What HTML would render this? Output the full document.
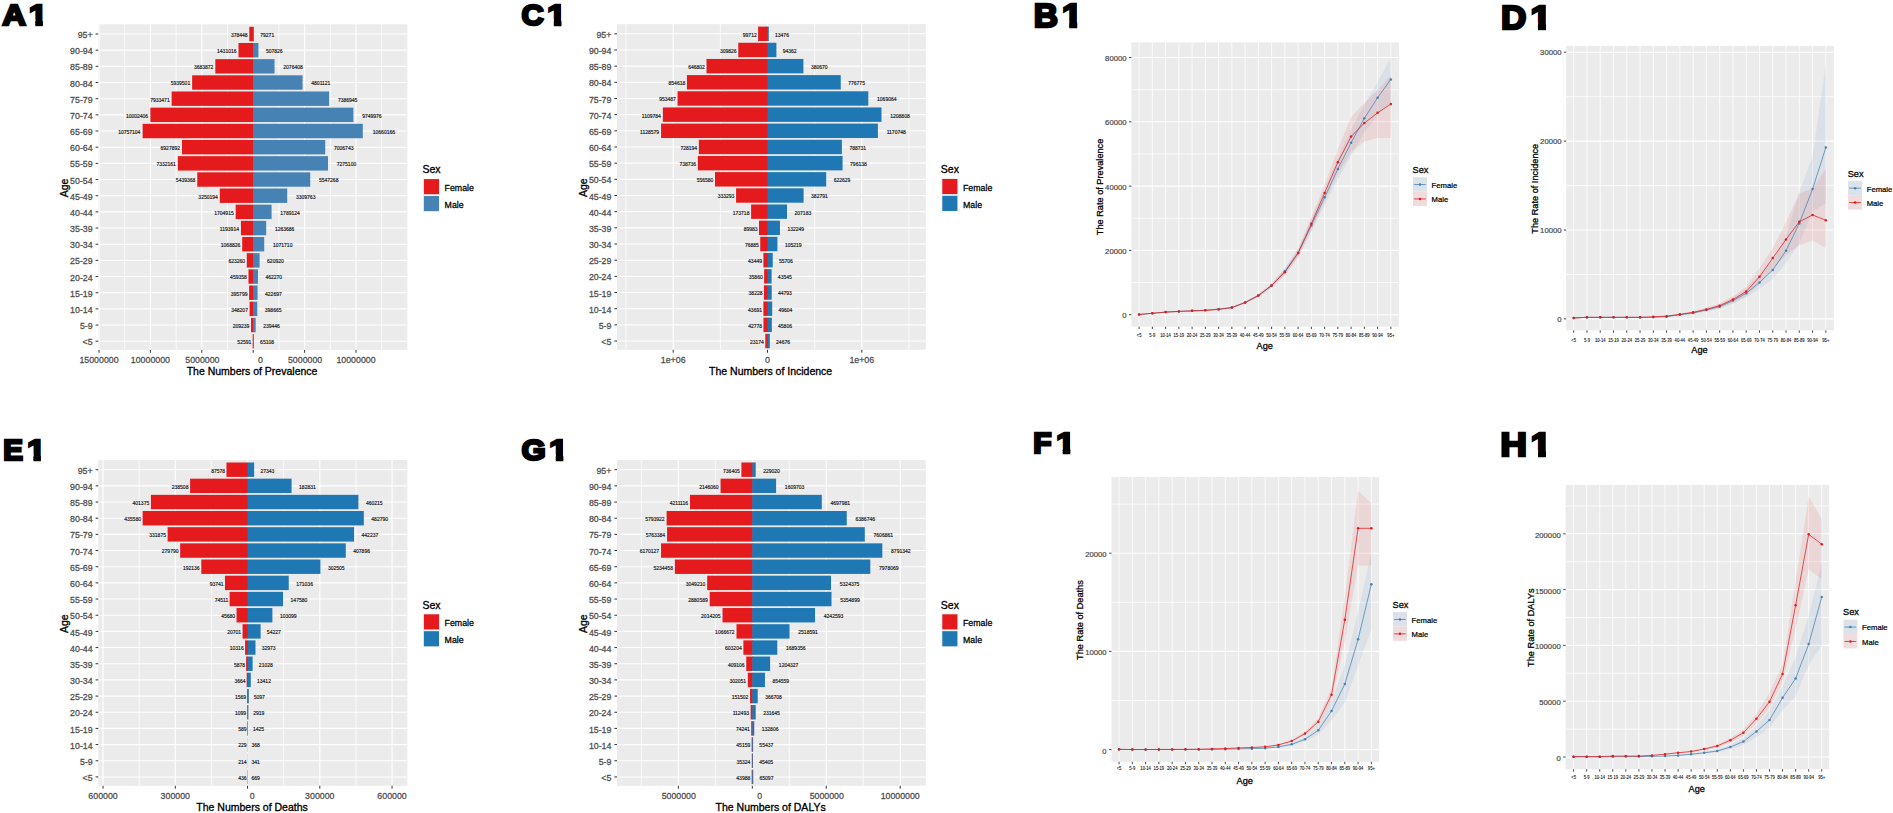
<!DOCTYPE html>
<html lang="en">
<head>
<meta charset="utf-8">
<title>Age-sex distribution of numbers and rates: prevalence, incidence, deaths and DALYs</title>
<style>
html,body{margin:0;padding:0;background:#fff;}
body{width:1893px;height:813px;overflow:hidden;font-family:"Liberation Sans", Arial, sans-serif;}
svg{display:block;position:absolute;left:0;top:0;}
</style>
</head>
<body>
<svg width="1893" height="813" viewBox="0 0 1893 813" font-family='"Liberation Sans", Arial, sans-serif'>
<g id="A1">
<rect x="98.3" y="24.3" width="309.1" height="325.6" fill="#EBEBEB"/>
<line x1="124.7" y1="24.3" x2="124.7" y2="349.9" stroke="#FFFFFF" stroke-width="0.75"/>
<line x1="176.1" y1="24.3" x2="176.1" y2="349.9" stroke="#FFFFFF" stroke-width="0.75"/>
<line x1="227.5" y1="24.3" x2="227.5" y2="349.9" stroke="#FFFFFF" stroke-width="0.75"/>
<line x1="278.9" y1="24.3" x2="278.9" y2="349.9" stroke="#FFFFFF" stroke-width="0.75"/>
<line x1="330.3" y1="24.3" x2="330.3" y2="349.9" stroke="#FFFFFF" stroke-width="0.75"/>
<line x1="381.7" y1="24.3" x2="381.7" y2="349.9" stroke="#FFFFFF" stroke-width="0.75"/>
<line x1="99" y1="24.3" x2="99" y2="349.9" stroke="#FFFFFF" stroke-width="1.1"/>
<line x1="150.4" y1="24.3" x2="150.4" y2="349.9" stroke="#FFFFFF" stroke-width="1.1"/>
<line x1="201.8" y1="24.3" x2="201.8" y2="349.9" stroke="#FFFFFF" stroke-width="1.1"/>
<line x1="253.2" y1="24.3" x2="253.2" y2="349.9" stroke="#FFFFFF" stroke-width="1.1"/>
<line x1="304.6" y1="24.3" x2="304.6" y2="349.9" stroke="#FFFFFF" stroke-width="1.1"/>
<line x1="356" y1="24.3" x2="356" y2="349.9" stroke="#FFFFFF" stroke-width="1.1"/>
<line x1="98.3" y1="34" x2="407.4" y2="34" stroke="#FFFFFF" stroke-width="1.1"/>
<line x1="98.3" y1="50.17" x2="407.4" y2="50.17" stroke="#FFFFFF" stroke-width="1.1"/>
<line x1="98.3" y1="66.34" x2="407.4" y2="66.34" stroke="#FFFFFF" stroke-width="1.1"/>
<line x1="98.3" y1="82.51" x2="407.4" y2="82.51" stroke="#FFFFFF" stroke-width="1.1"/>
<line x1="98.3" y1="98.68" x2="407.4" y2="98.68" stroke="#FFFFFF" stroke-width="1.1"/>
<line x1="98.3" y1="114.85" x2="407.4" y2="114.85" stroke="#FFFFFF" stroke-width="1.1"/>
<line x1="98.3" y1="131.02" x2="407.4" y2="131.02" stroke="#FFFFFF" stroke-width="1.1"/>
<line x1="98.3" y1="147.19" x2="407.4" y2="147.19" stroke="#FFFFFF" stroke-width="1.1"/>
<line x1="98.3" y1="163.36" x2="407.4" y2="163.36" stroke="#FFFFFF" stroke-width="1.1"/>
<line x1="98.3" y1="179.53" x2="407.4" y2="179.53" stroke="#FFFFFF" stroke-width="1.1"/>
<line x1="98.3" y1="195.7" x2="407.4" y2="195.7" stroke="#FFFFFF" stroke-width="1.1"/>
<line x1="98.3" y1="211.87" x2="407.4" y2="211.87" stroke="#FFFFFF" stroke-width="1.1"/>
<line x1="98.3" y1="228.04" x2="407.4" y2="228.04" stroke="#FFFFFF" stroke-width="1.1"/>
<line x1="98.3" y1="244.21" x2="407.4" y2="244.21" stroke="#FFFFFF" stroke-width="1.1"/>
<line x1="98.3" y1="260.38" x2="407.4" y2="260.38" stroke="#FFFFFF" stroke-width="1.1"/>
<line x1="98.3" y1="276.55" x2="407.4" y2="276.55" stroke="#FFFFFF" stroke-width="1.1"/>
<line x1="98.3" y1="292.72" x2="407.4" y2="292.72" stroke="#FFFFFF" stroke-width="1.1"/>
<line x1="98.3" y1="308.89" x2="407.4" y2="308.89" stroke="#FFFFFF" stroke-width="1.1"/>
<line x1="98.3" y1="325.06" x2="407.4" y2="325.06" stroke="#FFFFFF" stroke-width="1.1"/>
<line x1="98.3" y1="341.23" x2="407.4" y2="341.23" stroke="#FFFFFF" stroke-width="1.1"/>
<rect x="249.31" y="26.8" width="4.49" height="14.4" fill="#E41A1C"/>
<rect x="253.2" y="26.8" width="0.81" height="14.4" fill="#4682B4"/>
<rect x="238.49" y="42.97" width="15.31" height="14.4" fill="#E41A1C"/>
<rect x="253.2" y="42.97" width="5.22" height="14.4" fill="#4682B4"/>
<rect x="215.33" y="59.14" width="38.47" height="14.4" fill="#E41A1C"/>
<rect x="253.2" y="59.14" width="21.35" height="14.4" fill="#4682B4"/>
<rect x="192.14" y="75.31" width="61.66" height="14.4" fill="#E41A1C"/>
<rect x="253.2" y="75.31" width="49.36" height="14.4" fill="#4682B4"/>
<rect x="171.64" y="91.48" width="82.16" height="14.4" fill="#E41A1C"/>
<rect x="253.2" y="91.48" width="75.94" height="14.4" fill="#4682B4"/>
<rect x="150.38" y="107.65" width="103.42" height="14.4" fill="#E41A1C"/>
<rect x="253.2" y="107.65" width="100.23" height="14.4" fill="#4682B4"/>
<rect x="142.62" y="123.82" width="111.18" height="14.4" fill="#E41A1C"/>
<rect x="253.2" y="123.82" width="109.59" height="14.4" fill="#4682B4"/>
<rect x="181.98" y="139.99" width="71.82" height="14.4" fill="#E41A1C"/>
<rect x="253.2" y="139.99" width="72.03" height="14.4" fill="#4682B4"/>
<rect x="177.83" y="156.16" width="75.97" height="14.4" fill="#E41A1C"/>
<rect x="253.2" y="156.16" width="74.79" height="14.4" fill="#4682B4"/>
<rect x="197.28" y="172.33" width="56.52" height="14.4" fill="#E41A1C"/>
<rect x="253.2" y="172.33" width="57.03" height="14.4" fill="#4682B4"/>
<rect x="219.79" y="188.5" width="34.01" height="14.4" fill="#E41A1C"/>
<rect x="253.2" y="188.5" width="34.02" height="14.4" fill="#4682B4"/>
<rect x="235.67" y="204.67" width="18.13" height="14.4" fill="#E41A1C"/>
<rect x="253.2" y="204.67" width="18.39" height="14.4" fill="#4682B4"/>
<rect x="240.93" y="220.84" width="12.87" height="14.4" fill="#E41A1C"/>
<rect x="253.2" y="220.84" width="12.99" height="14.4" fill="#4682B4"/>
<rect x="242.21" y="237.01" width="11.59" height="14.4" fill="#E41A1C"/>
<rect x="253.2" y="237.01" width="11.02" height="14.4" fill="#4682B4"/>
<rect x="246.79" y="253.18" width="7.01" height="14.4" fill="#E41A1C"/>
<rect x="253.2" y="253.18" width="6.38" height="14.4" fill="#4682B4"/>
<rect x="248.48" y="269.35" width="5.32" height="14.4" fill="#E41A1C"/>
<rect x="253.2" y="269.35" width="4.75" height="14.4" fill="#4682B4"/>
<rect x="249.13" y="285.52" width="4.67" height="14.4" fill="#E41A1C"/>
<rect x="253.2" y="285.52" width="4.35" height="14.4" fill="#4682B4"/>
<rect x="249.62" y="301.69" width="4.18" height="14.4" fill="#E41A1C"/>
<rect x="253.2" y="301.69" width="4.1" height="14.4" fill="#4682B4"/>
<rect x="251.05" y="317.86" width="2.75" height="14.4" fill="#E41A1C"/>
<rect x="253.2" y="317.86" width="2.46" height="14.4" fill="#4682B4"/>
<rect x="252.66" y="334.03" width="1.14" height="14.4" fill="#E41A1C"/>
<rect x="253.2" y="334.03" width="0.67" height="14.4" fill="#4682B4"/>
<text x="247.64" y="36.85" font-size="5" fill="#111" text-anchor="end" stroke="#111" stroke-width="0.15">378448</text>
<text x="260.27" y="36.85" font-size="5" fill="#111" text-anchor="start" stroke="#111" stroke-width="0.15">79271</text>
<text x="236.54" y="53.02" font-size="5" fill="#111" text-anchor="end" stroke="#111" stroke-width="0.15">1431016</text>
<text x="265.93" y="53.02" font-size="5" fill="#111" text-anchor="start" stroke="#111" stroke-width="0.15">507826</text>
<text x="213.38" y="69.19" font-size="5" fill="#111" text-anchor="end" stroke="#111" stroke-width="0.15">3683872</text>
<text x="283.3" y="69.19" font-size="5" fill="#111" text-anchor="start" stroke="#111" stroke-width="0.15">2076408</text>
<text x="190.2" y="85.36" font-size="5" fill="#111" text-anchor="end" stroke="#111" stroke-width="0.15">5939501</text>
<text x="311.31" y="85.36" font-size="5" fill="#111" text-anchor="start" stroke="#111" stroke-width="0.15">4801121</text>
<text x="169.7" y="101.53" font-size="5" fill="#111" text-anchor="end" stroke="#111" stroke-width="0.15">7933471</text>
<text x="337.89" y="101.53" font-size="5" fill="#111" text-anchor="start" stroke="#111" stroke-width="0.15">7386945</text>
<text x="148.15" y="117.7" font-size="5" fill="#111" text-anchor="end" stroke="#111" stroke-width="0.15">10002406</text>
<text x="362.19" y="117.7" font-size="5" fill="#111" text-anchor="start" stroke="#111" stroke-width="0.15">9749976</text>
<text x="140.39" y="133.87" font-size="5" fill="#111" text-anchor="end" stroke="#111" stroke-width="0.15">10757104</text>
<text x="372.79" y="133.87" font-size="5" fill="#111" text-anchor="start" stroke="#111" stroke-width="0.15">10660166</text>
<text x="180.04" y="150.04" font-size="5" fill="#111" text-anchor="end" stroke="#111" stroke-width="0.15">6927892</text>
<text x="333.99" y="150.04" font-size="5" fill="#111" text-anchor="start" stroke="#111" stroke-width="0.15">7006743</text>
<text x="175.88" y="166.21" font-size="5" fill="#111" text-anchor="end" stroke="#111" stroke-width="0.15">7332161</text>
<text x="336.75" y="166.21" font-size="5" fill="#111" text-anchor="start" stroke="#111" stroke-width="0.15">7275100</text>
<text x="195.34" y="182.38" font-size="5" fill="#111" text-anchor="end" stroke="#111" stroke-width="0.15">5439368</text>
<text x="318.98" y="182.38" font-size="5" fill="#111" text-anchor="start" stroke="#111" stroke-width="0.15">5547268</text>
<text x="217.84" y="198.55" font-size="5" fill="#111" text-anchor="end" stroke="#111" stroke-width="0.15">3250194</text>
<text x="295.98" y="198.55" font-size="5" fill="#111" text-anchor="start" stroke="#111" stroke-width="0.15">3309763</text>
<text x="233.73" y="214.72" font-size="5" fill="#111" text-anchor="end" stroke="#111" stroke-width="0.15">1704915</text>
<text x="280.35" y="214.72" font-size="5" fill="#111" text-anchor="start" stroke="#111" stroke-width="0.15">1789124</text>
<text x="238.98" y="230.89" font-size="5" fill="#111" text-anchor="end" stroke="#111" stroke-width="0.15">1193914</text>
<text x="274.95" y="230.89" font-size="5" fill="#111" text-anchor="start" stroke="#111" stroke-width="0.15">1263686</text>
<text x="240.27" y="247.06" font-size="5" fill="#111" text-anchor="end" stroke="#111" stroke-width="0.15">1068826</text>
<text x="272.97" y="247.06" font-size="5" fill="#111" text-anchor="start" stroke="#111" stroke-width="0.15">1071710</text>
<text x="245.12" y="263.23" font-size="5" fill="#111" text-anchor="end" stroke="#111" stroke-width="0.15">623260</text>
<text x="267.09" y="263.23" font-size="5" fill="#111" text-anchor="start" stroke="#111" stroke-width="0.15">620920</text>
<text x="246.81" y="279.4" font-size="5" fill="#111" text-anchor="end" stroke="#111" stroke-width="0.15">459358</text>
<text x="265.46" y="279.4" font-size="5" fill="#111" text-anchor="start" stroke="#111" stroke-width="0.15">462270</text>
<text x="247.46" y="295.57" font-size="5" fill="#111" text-anchor="end" stroke="#111" stroke-width="0.15">395799</text>
<text x="265.05" y="295.57" font-size="5" fill="#111" text-anchor="start" stroke="#111" stroke-width="0.15">422697</text>
<text x="247.95" y="311.74" font-size="5" fill="#111" text-anchor="end" stroke="#111" stroke-width="0.15">348207</text>
<text x="264.8" y="311.74" font-size="5" fill="#111" text-anchor="start" stroke="#111" stroke-width="0.15">398665</text>
<text x="249.38" y="327.91" font-size="5" fill="#111" text-anchor="end" stroke="#111" stroke-width="0.15">209239</text>
<text x="263.17" y="327.91" font-size="5" fill="#111" text-anchor="start" stroke="#111" stroke-width="0.15">239446</text>
<text x="251.27" y="344.08" font-size="5" fill="#111" text-anchor="end" stroke="#111" stroke-width="0.15">52591</text>
<text x="260.12" y="344.08" font-size="5" fill="#111" text-anchor="start" stroke="#111" stroke-width="0.15">65108</text>
<line x1="95.6" y1="34" x2="98.3" y2="34" stroke="#333333" stroke-width="1"/>
<text x="92.6" y="38.1" font-size="8.8" fill="#4D4D4D" text-anchor="end" stroke="#4D4D4D" stroke-width="0.26">95+</text>
<line x1="95.6" y1="50.17" x2="98.3" y2="50.17" stroke="#333333" stroke-width="1"/>
<text x="92.6" y="54.27" font-size="8.8" fill="#4D4D4D" text-anchor="end" stroke="#4D4D4D" stroke-width="0.26">90-94</text>
<line x1="95.6" y1="66.34" x2="98.3" y2="66.34" stroke="#333333" stroke-width="1"/>
<text x="92.6" y="70.44" font-size="8.8" fill="#4D4D4D" text-anchor="end" stroke="#4D4D4D" stroke-width="0.26">85-89</text>
<line x1="95.6" y1="82.51" x2="98.3" y2="82.51" stroke="#333333" stroke-width="1"/>
<text x="92.6" y="86.61" font-size="8.8" fill="#4D4D4D" text-anchor="end" stroke="#4D4D4D" stroke-width="0.26">80-84</text>
<line x1="95.6" y1="98.68" x2="98.3" y2="98.68" stroke="#333333" stroke-width="1"/>
<text x="92.6" y="102.78" font-size="8.8" fill="#4D4D4D" text-anchor="end" stroke="#4D4D4D" stroke-width="0.26">75-79</text>
<line x1="95.6" y1="114.85" x2="98.3" y2="114.85" stroke="#333333" stroke-width="1"/>
<text x="92.6" y="118.95" font-size="8.8" fill="#4D4D4D" text-anchor="end" stroke="#4D4D4D" stroke-width="0.26">70-74</text>
<line x1="95.6" y1="131.02" x2="98.3" y2="131.02" stroke="#333333" stroke-width="1"/>
<text x="92.6" y="135.12" font-size="8.8" fill="#4D4D4D" text-anchor="end" stroke="#4D4D4D" stroke-width="0.26">65-69</text>
<line x1="95.6" y1="147.19" x2="98.3" y2="147.19" stroke="#333333" stroke-width="1"/>
<text x="92.6" y="151.29" font-size="8.8" fill="#4D4D4D" text-anchor="end" stroke="#4D4D4D" stroke-width="0.26">60-64</text>
<line x1="95.6" y1="163.36" x2="98.3" y2="163.36" stroke="#333333" stroke-width="1"/>
<text x="92.6" y="167.46" font-size="8.8" fill="#4D4D4D" text-anchor="end" stroke="#4D4D4D" stroke-width="0.26">55-59</text>
<line x1="95.6" y1="179.53" x2="98.3" y2="179.53" stroke="#333333" stroke-width="1"/>
<text x="92.6" y="183.63" font-size="8.8" fill="#4D4D4D" text-anchor="end" stroke="#4D4D4D" stroke-width="0.26">50-54</text>
<line x1="95.6" y1="195.7" x2="98.3" y2="195.7" stroke="#333333" stroke-width="1"/>
<text x="92.6" y="199.8" font-size="8.8" fill="#4D4D4D" text-anchor="end" stroke="#4D4D4D" stroke-width="0.26">45-49</text>
<line x1="95.6" y1="211.87" x2="98.3" y2="211.87" stroke="#333333" stroke-width="1"/>
<text x="92.6" y="215.97" font-size="8.8" fill="#4D4D4D" text-anchor="end" stroke="#4D4D4D" stroke-width="0.26">40-44</text>
<line x1="95.6" y1="228.04" x2="98.3" y2="228.04" stroke="#333333" stroke-width="1"/>
<text x="92.6" y="232.14" font-size="8.8" fill="#4D4D4D" text-anchor="end" stroke="#4D4D4D" stroke-width="0.26">35-39</text>
<line x1="95.6" y1="244.21" x2="98.3" y2="244.21" stroke="#333333" stroke-width="1"/>
<text x="92.6" y="248.31" font-size="8.8" fill="#4D4D4D" text-anchor="end" stroke="#4D4D4D" stroke-width="0.26">30-34</text>
<line x1="95.6" y1="260.38" x2="98.3" y2="260.38" stroke="#333333" stroke-width="1"/>
<text x="92.6" y="264.48" font-size="8.8" fill="#4D4D4D" text-anchor="end" stroke="#4D4D4D" stroke-width="0.26">25-29</text>
<line x1="95.6" y1="276.55" x2="98.3" y2="276.55" stroke="#333333" stroke-width="1"/>
<text x="92.6" y="280.65" font-size="8.8" fill="#4D4D4D" text-anchor="end" stroke="#4D4D4D" stroke-width="0.26">20-24</text>
<line x1="95.6" y1="292.72" x2="98.3" y2="292.72" stroke="#333333" stroke-width="1"/>
<text x="92.6" y="296.82" font-size="8.8" fill="#4D4D4D" text-anchor="end" stroke="#4D4D4D" stroke-width="0.26">15-19</text>
<line x1="95.6" y1="308.89" x2="98.3" y2="308.89" stroke="#333333" stroke-width="1"/>
<text x="92.6" y="312.99" font-size="8.8" fill="#4D4D4D" text-anchor="end" stroke="#4D4D4D" stroke-width="0.26">10-14</text>
<line x1="95.6" y1="325.06" x2="98.3" y2="325.06" stroke="#333333" stroke-width="1"/>
<text x="92.6" y="329.16" font-size="8.8" fill="#4D4D4D" text-anchor="end" stroke="#4D4D4D" stroke-width="0.26">5-9</text>
<line x1="95.6" y1="341.23" x2="98.3" y2="341.23" stroke="#333333" stroke-width="1"/>
<text x="92.6" y="345.33" font-size="8.8" fill="#4D4D4D" text-anchor="end" stroke="#4D4D4D" stroke-width="0.26">&lt;5</text>
<text transform="translate(68.2 187.9) rotate(-90)" font-size="10.5" fill="#000" stroke="#000" stroke-width="0.32" text-anchor="middle">Age</text>
<line x1="99" y1="349.9" x2="99" y2="352.8" stroke="#333333" stroke-width="1"/>
<text x="99" y="362.6" font-size="8.8" fill="#4D4D4D" text-anchor="middle" stroke="#4D4D4D" stroke-width="0.26">15000000</text>
<line x1="150.4" y1="349.9" x2="150.4" y2="352.8" stroke="#333333" stroke-width="1"/>
<text x="150.4" y="362.6" font-size="8.8" fill="#4D4D4D" text-anchor="middle" stroke="#4D4D4D" stroke-width="0.26">10000000</text>
<line x1="201.8" y1="349.9" x2="201.8" y2="352.8" stroke="#333333" stroke-width="1"/>
<text x="202.4" y="362.6" font-size="8.8" fill="#4D4D4D" text-anchor="middle" stroke="#4D4D4D" stroke-width="0.26">5000000</text>
<line x1="253.2" y1="349.9" x2="253.2" y2="352.8" stroke="#333333" stroke-width="1"/>
<text x="260.4" y="362.6" font-size="8.8" fill="#4D4D4D" text-anchor="middle" stroke="#4D4D4D" stroke-width="0.26">0</text>
<line x1="304.6" y1="349.9" x2="304.6" y2="352.8" stroke="#333333" stroke-width="1"/>
<text x="305.1" y="362.6" font-size="8.8" fill="#4D4D4D" text-anchor="middle" stroke="#4D4D4D" stroke-width="0.26">5000000</text>
<line x1="356" y1="349.9" x2="356" y2="352.8" stroke="#333333" stroke-width="1"/>
<text x="356" y="362.6" font-size="8.8" fill="#4D4D4D" text-anchor="middle" stroke="#4D4D4D" stroke-width="0.26">10000000</text>
<text x="252.05" y="374.9" font-size="10.5" fill="#000" text-anchor="middle" stroke="#000" stroke-width="0.32">The Numbers of Prevalence</text>
<text x="422.4" y="173.4" font-size="10.5" fill="#000" text-anchor="start" stroke="#000" stroke-width="0.32">Sex</text>
<rect x="423" y="178.2" width="16.9" height="16.9" fill="#F2F2F2"/>
<rect x="423.9" y="179.1" width="15.1" height="15.1" fill="#E41A1C"/>
<text x="444.6" y="191" font-size="8.8" fill="#000" text-anchor="start" stroke="#000" stroke-width="0.26">Female</text>
<rect x="423" y="195.1" width="16.9" height="16.9" fill="#F2F2F2"/>
<rect x="423.9" y="196" width="15.1" height="15.1" fill="#4682B4"/>
<text x="444.6" y="207.9" font-size="8.8" fill="#000" text-anchor="start" stroke="#000" stroke-width="0.26">Male</text>
</g><g id="C1">
<rect x="617.1" y="24.1" width="308.7" height="325.7" fill="#EBEBEB"/>
<line x1="626.05" y1="24.1" x2="626.05" y2="349.8" stroke="#FFFFFF" stroke-width="0.75"/>
<line x1="720.35" y1="24.1" x2="720.35" y2="349.8" stroke="#FFFFFF" stroke-width="0.75"/>
<line x1="814.65" y1="24.1" x2="814.65" y2="349.8" stroke="#FFFFFF" stroke-width="0.75"/>
<line x1="908.95" y1="24.1" x2="908.95" y2="349.8" stroke="#FFFFFF" stroke-width="0.75"/>
<line x1="673.2" y1="24.1" x2="673.2" y2="349.8" stroke="#FFFFFF" stroke-width="1.1"/>
<line x1="767.5" y1="24.1" x2="767.5" y2="349.8" stroke="#FFFFFF" stroke-width="1.1"/>
<line x1="861.8" y1="24.1" x2="861.8" y2="349.8" stroke="#FFFFFF" stroke-width="1.1"/>
<line x1="617.1" y1="33.8" x2="925.8" y2="33.8" stroke="#FFFFFF" stroke-width="1.1"/>
<line x1="617.1" y1="49.97" x2="925.8" y2="49.97" stroke="#FFFFFF" stroke-width="1.1"/>
<line x1="617.1" y1="66.14" x2="925.8" y2="66.14" stroke="#FFFFFF" stroke-width="1.1"/>
<line x1="617.1" y1="82.31" x2="925.8" y2="82.31" stroke="#FFFFFF" stroke-width="1.1"/>
<line x1="617.1" y1="98.48" x2="925.8" y2="98.48" stroke="#FFFFFF" stroke-width="1.1"/>
<line x1="617.1" y1="114.65" x2="925.8" y2="114.65" stroke="#FFFFFF" stroke-width="1.1"/>
<line x1="617.1" y1="130.82" x2="925.8" y2="130.82" stroke="#FFFFFF" stroke-width="1.1"/>
<line x1="617.1" y1="146.99" x2="925.8" y2="146.99" stroke="#FFFFFF" stroke-width="1.1"/>
<line x1="617.1" y1="163.16" x2="925.8" y2="163.16" stroke="#FFFFFF" stroke-width="1.1"/>
<line x1="617.1" y1="179.33" x2="925.8" y2="179.33" stroke="#FFFFFF" stroke-width="1.1"/>
<line x1="617.1" y1="195.5" x2="925.8" y2="195.5" stroke="#FFFFFF" stroke-width="1.1"/>
<line x1="617.1" y1="211.67" x2="925.8" y2="211.67" stroke="#FFFFFF" stroke-width="1.1"/>
<line x1="617.1" y1="227.84" x2="925.8" y2="227.84" stroke="#FFFFFF" stroke-width="1.1"/>
<line x1="617.1" y1="244.01" x2="925.8" y2="244.01" stroke="#FFFFFF" stroke-width="1.1"/>
<line x1="617.1" y1="260.18" x2="925.8" y2="260.18" stroke="#FFFFFF" stroke-width="1.1"/>
<line x1="617.1" y1="276.35" x2="925.8" y2="276.35" stroke="#FFFFFF" stroke-width="1.1"/>
<line x1="617.1" y1="292.52" x2="925.8" y2="292.52" stroke="#FFFFFF" stroke-width="1.1"/>
<line x1="617.1" y1="308.69" x2="925.8" y2="308.69" stroke="#FFFFFF" stroke-width="1.1"/>
<line x1="617.1" y1="324.86" x2="925.8" y2="324.86" stroke="#FFFFFF" stroke-width="1.1"/>
<line x1="617.1" y1="341.03" x2="925.8" y2="341.03" stroke="#FFFFFF" stroke-width="1.1"/>
<rect x="758.1" y="26.6" width="10" height="14.4" fill="#E41A1C"/>
<rect x="767.5" y="26.6" width="1.27" height="14.4" fill="#1F78B4"/>
<rect x="738.28" y="42.77" width="29.82" height="14.4" fill="#E41A1C"/>
<rect x="767.5" y="42.77" width="8.9" height="14.4" fill="#1F78B4"/>
<rect x="706.51" y="58.94" width="61.59" height="14.4" fill="#E41A1C"/>
<rect x="767.5" y="58.94" width="35.9" height="14.4" fill="#1F78B4"/>
<rect x="686.91" y="75.11" width="81.19" height="14.4" fill="#E41A1C"/>
<rect x="767.5" y="75.11" width="73.25" height="14.4" fill="#1F78B4"/>
<rect x="677.59" y="91.28" width="90.51" height="14.4" fill="#E41A1C"/>
<rect x="767.5" y="91.28" width="100.81" height="14.4" fill="#1F78B4"/>
<rect x="662.85" y="107.45" width="105.25" height="14.4" fill="#E41A1C"/>
<rect x="767.5" y="107.45" width="113.99" height="14.4" fill="#1F78B4"/>
<rect x="661.08" y="123.62" width="107.02" height="14.4" fill="#E41A1C"/>
<rect x="767.5" y="123.62" width="110.4" height="14.4" fill="#1F78B4"/>
<rect x="698.83" y="139.79" width="69.27" height="14.4" fill="#E41A1C"/>
<rect x="767.5" y="139.79" width="74.38" height="14.4" fill="#1F78B4"/>
<rect x="697.84" y="155.96" width="70.26" height="14.4" fill="#E41A1C"/>
<rect x="767.5" y="155.96" width="75.08" height="14.4" fill="#1F78B4"/>
<rect x="715.01" y="172.13" width="53.09" height="14.4" fill="#E41A1C"/>
<rect x="767.5" y="172.13" width="58.71" height="14.4" fill="#1F78B4"/>
<rect x="736.07" y="188.3" width="32.03" height="14.4" fill="#E41A1C"/>
<rect x="767.5" y="188.3" width="36.1" height="14.4" fill="#1F78B4"/>
<rect x="751.12" y="204.47" width="16.98" height="14.4" fill="#E41A1C"/>
<rect x="767.5" y="204.47" width="19.54" height="14.4" fill="#1F78B4"/>
<rect x="759.01" y="220.64" width="9.09" height="14.4" fill="#E41A1C"/>
<rect x="767.5" y="220.64" width="12.47" height="14.4" fill="#1F78B4"/>
<rect x="760.25" y="236.81" width="7.85" height="14.4" fill="#E41A1C"/>
<rect x="767.5" y="236.81" width="9.92" height="14.4" fill="#1F78B4"/>
<rect x="763.4" y="252.98" width="4.7" height="14.4" fill="#E41A1C"/>
<rect x="767.5" y="252.98" width="5.25" height="14.4" fill="#1F78B4"/>
<rect x="764.12" y="269.15" width="3.98" height="14.4" fill="#E41A1C"/>
<rect x="767.5" y="269.15" width="4.11" height="14.4" fill="#1F78B4"/>
<rect x="763.9" y="285.32" width="4.2" height="14.4" fill="#E41A1C"/>
<rect x="767.5" y="285.32" width="4.22" height="14.4" fill="#1F78B4"/>
<rect x="763.38" y="301.49" width="4.72" height="14.4" fill="#E41A1C"/>
<rect x="767.5" y="301.49" width="4.68" height="14.4" fill="#1F78B4"/>
<rect x="763.47" y="317.66" width="4.63" height="14.4" fill="#E41A1C"/>
<rect x="767.5" y="317.66" width="4.32" height="14.4" fill="#1F78B4"/>
<rect x="765.31" y="333.83" width="2.79" height="14.4" fill="#E41A1C"/>
<rect x="767.5" y="333.83" width="2.33" height="14.4" fill="#1F78B4"/>
<text x="756.71" y="36.65" font-size="5" fill="#111" text-anchor="end" stroke="#111" stroke-width="0.15">99712</text>
<text x="775.03" y="36.65" font-size="5" fill="#111" text-anchor="start" stroke="#111" stroke-width="0.15">13476</text>
<text x="736.62" y="52.82" font-size="5" fill="#111" text-anchor="end" stroke="#111" stroke-width="0.15">309826</text>
<text x="782.65" y="52.82" font-size="5" fill="#111" text-anchor="start" stroke="#111" stroke-width="0.15">94362</text>
<text x="704.84" y="68.99" font-size="5" fill="#111" text-anchor="end" stroke="#111" stroke-width="0.15">646802</text>
<text x="810.9" y="68.99" font-size="5" fill="#111" text-anchor="start" stroke="#111" stroke-width="0.15">380670</text>
<text x="685.24" y="85.16" font-size="5" fill="#111" text-anchor="end" stroke="#111" stroke-width="0.15">854618</text>
<text x="848.26" y="85.16" font-size="5" fill="#111" text-anchor="start" stroke="#111" stroke-width="0.15">776775</text>
<text x="675.92" y="101.33" font-size="5" fill="#111" text-anchor="end" stroke="#111" stroke-width="0.15">953487</text>
<text x="877.07" y="101.33" font-size="5" fill="#111" text-anchor="start" stroke="#111" stroke-width="0.15">1069064</text>
<text x="660.9" y="117.5" font-size="5" fill="#111" text-anchor="end" stroke="#111" stroke-width="0.15">1109784</text>
<text x="890.25" y="117.5" font-size="5" fill="#111" text-anchor="start" stroke="#111" stroke-width="0.15">1208808</text>
<text x="659.13" y="133.67" font-size="5" fill="#111" text-anchor="end" stroke="#111" stroke-width="0.15">1128579</text>
<text x="886.66" y="133.67" font-size="5" fill="#111" text-anchor="start" stroke="#111" stroke-width="0.15">1170748</text>
<text x="697.16" y="149.84" font-size="5" fill="#111" text-anchor="end" stroke="#111" stroke-width="0.15">728194</text>
<text x="849.38" y="149.84" font-size="5" fill="#111" text-anchor="start" stroke="#111" stroke-width="0.15">788731</text>
<text x="696.17" y="166.01" font-size="5" fill="#111" text-anchor="end" stroke="#111" stroke-width="0.15">738736</text>
<text x="850.08" y="166.01" font-size="5" fill="#111" text-anchor="start" stroke="#111" stroke-width="0.15">796138</text>
<text x="713.35" y="182.18" font-size="5" fill="#111" text-anchor="end" stroke="#111" stroke-width="0.15">556580</text>
<text x="833.72" y="182.18" font-size="5" fill="#111" text-anchor="start" stroke="#111" stroke-width="0.15">622629</text>
<text x="734.4" y="198.35" font-size="5" fill="#111" text-anchor="end" stroke="#111" stroke-width="0.15">333293</text>
<text x="811.1" y="198.35" font-size="5" fill="#111" text-anchor="start" stroke="#111" stroke-width="0.15">382791</text>
<text x="749.45" y="214.52" font-size="5" fill="#111" text-anchor="end" stroke="#111" stroke-width="0.15">173718</text>
<text x="794.54" y="214.52" font-size="5" fill="#111" text-anchor="start" stroke="#111" stroke-width="0.15">207183</text>
<text x="757.62" y="230.69" font-size="5" fill="#111" text-anchor="end" stroke="#111" stroke-width="0.15">89983</text>
<text x="787.48" y="230.69" font-size="5" fill="#111" text-anchor="start" stroke="#111" stroke-width="0.15">132249</text>
<text x="758.86" y="246.86" font-size="5" fill="#111" text-anchor="end" stroke="#111" stroke-width="0.15">76885</text>
<text x="784.93" y="246.86" font-size="5" fill="#111" text-anchor="start" stroke="#111" stroke-width="0.15">105219</text>
<text x="762.01" y="263.03" font-size="5" fill="#111" text-anchor="end" stroke="#111" stroke-width="0.15">43449</text>
<text x="779.01" y="263.03" font-size="5" fill="#111" text-anchor="start" stroke="#111" stroke-width="0.15">55706</text>
<text x="762.73" y="279.2" font-size="5" fill="#111" text-anchor="end" stroke="#111" stroke-width="0.15">35860</text>
<text x="777.86" y="279.2" font-size="5" fill="#111" text-anchor="start" stroke="#111" stroke-width="0.15">43545</text>
<text x="762.51" y="295.37" font-size="5" fill="#111" text-anchor="end" stroke="#111" stroke-width="0.15">38228</text>
<text x="777.98" y="295.37" font-size="5" fill="#111" text-anchor="start" stroke="#111" stroke-width="0.15">44793</text>
<text x="761.99" y="311.54" font-size="5" fill="#111" text-anchor="end" stroke="#111" stroke-width="0.15">43691</text>
<text x="778.43" y="311.54" font-size="5" fill="#111" text-anchor="start" stroke="#111" stroke-width="0.15">49604</text>
<text x="762.08" y="327.71" font-size="5" fill="#111" text-anchor="end" stroke="#111" stroke-width="0.15">42778</text>
<text x="778.07" y="327.71" font-size="5" fill="#111" text-anchor="start" stroke="#111" stroke-width="0.15">45806</text>
<text x="763.92" y="343.88" font-size="5" fill="#111" text-anchor="end" stroke="#111" stroke-width="0.15">23174</text>
<text x="776.08" y="343.88" font-size="5" fill="#111" text-anchor="start" stroke="#111" stroke-width="0.15">24676</text>
<line x1="614.4" y1="33.8" x2="617.1" y2="33.8" stroke="#333333" stroke-width="1"/>
<text x="611.4" y="37.9" font-size="8.8" fill="#4D4D4D" text-anchor="end" stroke="#4D4D4D" stroke-width="0.26">95+</text>
<line x1="614.4" y1="49.97" x2="617.1" y2="49.97" stroke="#333333" stroke-width="1"/>
<text x="611.4" y="54.07" font-size="8.8" fill="#4D4D4D" text-anchor="end" stroke="#4D4D4D" stroke-width="0.26">90-94</text>
<line x1="614.4" y1="66.14" x2="617.1" y2="66.14" stroke="#333333" stroke-width="1"/>
<text x="611.4" y="70.24" font-size="8.8" fill="#4D4D4D" text-anchor="end" stroke="#4D4D4D" stroke-width="0.26">85-89</text>
<line x1="614.4" y1="82.31" x2="617.1" y2="82.31" stroke="#333333" stroke-width="1"/>
<text x="611.4" y="86.41" font-size="8.8" fill="#4D4D4D" text-anchor="end" stroke="#4D4D4D" stroke-width="0.26">80-84</text>
<line x1="614.4" y1="98.48" x2="617.1" y2="98.48" stroke="#333333" stroke-width="1"/>
<text x="611.4" y="102.58" font-size="8.8" fill="#4D4D4D" text-anchor="end" stroke="#4D4D4D" stroke-width="0.26">75-79</text>
<line x1="614.4" y1="114.65" x2="617.1" y2="114.65" stroke="#333333" stroke-width="1"/>
<text x="611.4" y="118.75" font-size="8.8" fill="#4D4D4D" text-anchor="end" stroke="#4D4D4D" stroke-width="0.26">70-74</text>
<line x1="614.4" y1="130.82" x2="617.1" y2="130.82" stroke="#333333" stroke-width="1"/>
<text x="611.4" y="134.92" font-size="8.8" fill="#4D4D4D" text-anchor="end" stroke="#4D4D4D" stroke-width="0.26">65-69</text>
<line x1="614.4" y1="146.99" x2="617.1" y2="146.99" stroke="#333333" stroke-width="1"/>
<text x="611.4" y="151.09" font-size="8.8" fill="#4D4D4D" text-anchor="end" stroke="#4D4D4D" stroke-width="0.26">60-64</text>
<line x1="614.4" y1="163.16" x2="617.1" y2="163.16" stroke="#333333" stroke-width="1"/>
<text x="611.4" y="167.26" font-size="8.8" fill="#4D4D4D" text-anchor="end" stroke="#4D4D4D" stroke-width="0.26">55-59</text>
<line x1="614.4" y1="179.33" x2="617.1" y2="179.33" stroke="#333333" stroke-width="1"/>
<text x="611.4" y="183.43" font-size="8.8" fill="#4D4D4D" text-anchor="end" stroke="#4D4D4D" stroke-width="0.26">50-54</text>
<line x1="614.4" y1="195.5" x2="617.1" y2="195.5" stroke="#333333" stroke-width="1"/>
<text x="611.4" y="199.6" font-size="8.8" fill="#4D4D4D" text-anchor="end" stroke="#4D4D4D" stroke-width="0.26">45-49</text>
<line x1="614.4" y1="211.67" x2="617.1" y2="211.67" stroke="#333333" stroke-width="1"/>
<text x="611.4" y="215.77" font-size="8.8" fill="#4D4D4D" text-anchor="end" stroke="#4D4D4D" stroke-width="0.26">40-44</text>
<line x1="614.4" y1="227.84" x2="617.1" y2="227.84" stroke="#333333" stroke-width="1"/>
<text x="611.4" y="231.94" font-size="8.8" fill="#4D4D4D" text-anchor="end" stroke="#4D4D4D" stroke-width="0.26">35-39</text>
<line x1="614.4" y1="244.01" x2="617.1" y2="244.01" stroke="#333333" stroke-width="1"/>
<text x="611.4" y="248.11" font-size="8.8" fill="#4D4D4D" text-anchor="end" stroke="#4D4D4D" stroke-width="0.26">30-34</text>
<line x1="614.4" y1="260.18" x2="617.1" y2="260.18" stroke="#333333" stroke-width="1"/>
<text x="611.4" y="264.28" font-size="8.8" fill="#4D4D4D" text-anchor="end" stroke="#4D4D4D" stroke-width="0.26">25-29</text>
<line x1="614.4" y1="276.35" x2="617.1" y2="276.35" stroke="#333333" stroke-width="1"/>
<text x="611.4" y="280.45" font-size="8.8" fill="#4D4D4D" text-anchor="end" stroke="#4D4D4D" stroke-width="0.26">20-24</text>
<line x1="614.4" y1="292.52" x2="617.1" y2="292.52" stroke="#333333" stroke-width="1"/>
<text x="611.4" y="296.62" font-size="8.8" fill="#4D4D4D" text-anchor="end" stroke="#4D4D4D" stroke-width="0.26">15-19</text>
<line x1="614.4" y1="308.69" x2="617.1" y2="308.69" stroke="#333333" stroke-width="1"/>
<text x="611.4" y="312.79" font-size="8.8" fill="#4D4D4D" text-anchor="end" stroke="#4D4D4D" stroke-width="0.26">10-14</text>
<line x1="614.4" y1="324.86" x2="617.1" y2="324.86" stroke="#333333" stroke-width="1"/>
<text x="611.4" y="328.96" font-size="8.8" fill="#4D4D4D" text-anchor="end" stroke="#4D4D4D" stroke-width="0.26">5-9</text>
<line x1="614.4" y1="341.03" x2="617.1" y2="341.03" stroke="#333333" stroke-width="1"/>
<text x="611.4" y="345.13" font-size="8.8" fill="#4D4D4D" text-anchor="end" stroke="#4D4D4D" stroke-width="0.26">&lt;5</text>
<text transform="translate(587 187.75) rotate(-90)" font-size="10.5" fill="#000" stroke="#000" stroke-width="0.32" text-anchor="middle">Age</text>
<line x1="673.2" y1="349.8" x2="673.2" y2="352.7" stroke="#333333" stroke-width="1"/>
<text x="673.2" y="362.5" font-size="8.8" fill="#4D4D4D" text-anchor="middle" stroke="#4D4D4D" stroke-width="0.26">1e+06</text>
<line x1="767.5" y1="349.8" x2="767.5" y2="352.7" stroke="#333333" stroke-width="1"/>
<text x="767.5" y="362.5" font-size="8.8" fill="#4D4D4D" text-anchor="middle" stroke="#4D4D4D" stroke-width="0.26">0</text>
<line x1="861.8" y1="349.8" x2="861.8" y2="352.7" stroke="#333333" stroke-width="1"/>
<text x="861.8" y="362.5" font-size="8.8" fill="#4D4D4D" text-anchor="middle" stroke="#4D4D4D" stroke-width="0.26">1e+06</text>
<text x="770.65" y="374.8" font-size="10.5" fill="#000" text-anchor="middle" stroke="#000" stroke-width="0.32">The Numbers of Incidence</text>
<text x="940.8" y="173.25" font-size="10.5" fill="#000" text-anchor="start" stroke="#000" stroke-width="0.32">Sex</text>
<rect x="941.4" y="178.05" width="16.9" height="16.9" fill="#F2F2F2"/>
<rect x="942.3" y="178.95" width="15.1" height="15.1" fill="#E41A1C"/>
<text x="963" y="190.85" font-size="8.8" fill="#000" text-anchor="start" stroke="#000" stroke-width="0.26">Female</text>
<rect x="941.4" y="194.95" width="16.9" height="16.9" fill="#F2F2F2"/>
<rect x="942.3" y="195.85" width="15.1" height="15.1" fill="#1F78B4"/>
<text x="963" y="207.75" font-size="8.8" fill="#000" text-anchor="start" stroke="#000" stroke-width="0.26">Male</text>
</g><g id="E1">
<rect x="98.3" y="460" width="309.1" height="325.8" fill="#EBEBEB"/>
<line x1="139.18" y1="460" x2="139.18" y2="785.8" stroke="#FFFFFF" stroke-width="0.75"/>
<line x1="211.43" y1="460" x2="211.43" y2="785.8" stroke="#FFFFFF" stroke-width="0.75"/>
<line x1="283.68" y1="460" x2="283.68" y2="785.8" stroke="#FFFFFF" stroke-width="0.75"/>
<line x1="355.93" y1="460" x2="355.93" y2="785.8" stroke="#FFFFFF" stroke-width="0.75"/>
<line x1="103.05" y1="460" x2="103.05" y2="785.8" stroke="#FFFFFF" stroke-width="1.1"/>
<line x1="175.3" y1="460" x2="175.3" y2="785.8" stroke="#FFFFFF" stroke-width="1.1"/>
<line x1="247.55" y1="460" x2="247.55" y2="785.8" stroke="#FFFFFF" stroke-width="1.1"/>
<line x1="319.8" y1="460" x2="319.8" y2="785.8" stroke="#FFFFFF" stroke-width="1.1"/>
<line x1="392.05" y1="460" x2="392.05" y2="785.8" stroke="#FFFFFF" stroke-width="1.1"/>
<line x1="98.3" y1="469.7" x2="407.4" y2="469.7" stroke="#FFFFFF" stroke-width="1.1"/>
<line x1="98.3" y1="485.87" x2="407.4" y2="485.87" stroke="#FFFFFF" stroke-width="1.1"/>
<line x1="98.3" y1="502.04" x2="407.4" y2="502.04" stroke="#FFFFFF" stroke-width="1.1"/>
<line x1="98.3" y1="518.21" x2="407.4" y2="518.21" stroke="#FFFFFF" stroke-width="1.1"/>
<line x1="98.3" y1="534.38" x2="407.4" y2="534.38" stroke="#FFFFFF" stroke-width="1.1"/>
<line x1="98.3" y1="550.55" x2="407.4" y2="550.55" stroke="#FFFFFF" stroke-width="1.1"/>
<line x1="98.3" y1="566.72" x2="407.4" y2="566.72" stroke="#FFFFFF" stroke-width="1.1"/>
<line x1="98.3" y1="582.89" x2="407.4" y2="582.89" stroke="#FFFFFF" stroke-width="1.1"/>
<line x1="98.3" y1="599.06" x2="407.4" y2="599.06" stroke="#FFFFFF" stroke-width="1.1"/>
<line x1="98.3" y1="615.23" x2="407.4" y2="615.23" stroke="#FFFFFF" stroke-width="1.1"/>
<line x1="98.3" y1="631.4" x2="407.4" y2="631.4" stroke="#FFFFFF" stroke-width="1.1"/>
<line x1="98.3" y1="647.57" x2="407.4" y2="647.57" stroke="#FFFFFF" stroke-width="1.1"/>
<line x1="98.3" y1="663.74" x2="407.4" y2="663.74" stroke="#FFFFFF" stroke-width="1.1"/>
<line x1="98.3" y1="679.91" x2="407.4" y2="679.91" stroke="#FFFFFF" stroke-width="1.1"/>
<line x1="98.3" y1="696.08" x2="407.4" y2="696.08" stroke="#FFFFFF" stroke-width="1.1"/>
<line x1="98.3" y1="712.25" x2="407.4" y2="712.25" stroke="#FFFFFF" stroke-width="1.1"/>
<line x1="98.3" y1="728.42" x2="407.4" y2="728.42" stroke="#FFFFFF" stroke-width="1.1"/>
<line x1="98.3" y1="744.59" x2="407.4" y2="744.59" stroke="#FFFFFF" stroke-width="1.1"/>
<line x1="98.3" y1="760.76" x2="407.4" y2="760.76" stroke="#FFFFFF" stroke-width="1.1"/>
<line x1="98.3" y1="776.93" x2="407.4" y2="776.93" stroke="#FFFFFF" stroke-width="1.1"/>
<rect x="226.46" y="462.5" width="21.69" height="14.4" fill="#E41A1C"/>
<rect x="247.55" y="462.5" width="6.59" height="14.4" fill="#1F78B4"/>
<rect x="190.11" y="478.67" width="58.04" height="14.4" fill="#E41A1C"/>
<rect x="247.55" y="478.67" width="44.03" height="14.4" fill="#1F78B4"/>
<rect x="150.89" y="494.84" width="97.26" height="14.4" fill="#E41A1C"/>
<rect x="247.55" y="494.84" width="110.84" height="14.4" fill="#1F78B4"/>
<rect x="142.65" y="511.01" width="105.5" height="14.4" fill="#E41A1C"/>
<rect x="247.55" y="511.01" width="116.27" height="14.4" fill="#1F78B4"/>
<rect x="167.62" y="527.18" width="80.53" height="14.4" fill="#E41A1C"/>
<rect x="247.55" y="527.18" width="106.51" height="14.4" fill="#1F78B4"/>
<rect x="180.17" y="543.35" width="67.98" height="14.4" fill="#E41A1C"/>
<rect x="247.55" y="543.35" width="98.23" height="14.4" fill="#1F78B4"/>
<rect x="201.28" y="559.52" width="46.87" height="14.4" fill="#E41A1C"/>
<rect x="247.55" y="559.52" width="72.85" height="14.4" fill="#1F78B4"/>
<rect x="224.97" y="575.69" width="23.18" height="14.4" fill="#E41A1C"/>
<rect x="247.55" y="575.69" width="41.19" height="14.4" fill="#1F78B4"/>
<rect x="229.61" y="591.86" width="18.54" height="14.4" fill="#E41A1C"/>
<rect x="247.55" y="591.86" width="35.54" height="14.4" fill="#1F78B4"/>
<rect x="236.55" y="608.03" width="11.6" height="14.4" fill="#E41A1C"/>
<rect x="247.55" y="608.03" width="24.83" height="14.4" fill="#1F78B4"/>
<rect x="242.56" y="624.2" width="5.59" height="14.4" fill="#E41A1C"/>
<rect x="247.55" y="624.2" width="13.06" height="14.4" fill="#1F78B4"/>
<rect x="245.07" y="640.37" width="3.08" height="14.4" fill="#E41A1C"/>
<rect x="247.55" y="640.37" width="7.94" height="14.4" fill="#1F78B4"/>
<rect x="246.13" y="656.54" width="2.02" height="14.4" fill="#E41A1C"/>
<rect x="247.55" y="656.54" width="5.06" height="14.4" fill="#1F78B4"/>
<rect x="246.67" y="672.71" width="1.48" height="14.4" fill="#E41A1C"/>
<rect x="247.55" y="672.71" width="3.23" height="14.4" fill="#1F78B4"/>
<rect x="247.17" y="688.88" width="0.98" height="14.4" fill="#E41A1C"/>
<rect x="247.55" y="688.88" width="1.23" height="14.4" fill="#1F78B4"/>
<rect x="247.29" y="705.05" width="0.86" height="14.4" fill="#E41A1C"/>
<rect x="247.55" y="705.05" width="0.7" height="14.4" fill="#1F78B4"/>
<rect x="247.41" y="721.22" width="0.49" height="14.4" fill="#E41A1C"/>
<rect x="247.55" y="721.22" width="0.34" height="14.4" fill="#1F78B4"/>
<rect x="247.49" y="737.39" width="0.14" height="14.4" fill="#E41A1C"/>
<rect x="247.55" y="737.39" width="0.09" height="14.4" fill="#1F78B4"/>
<rect x="247.5" y="753.56" width="0.13" height="14.4" fill="#E41A1C"/>
<rect x="247.55" y="753.56" width="0.08" height="14.4" fill="#1F78B4"/>
<rect x="247.44" y="769.73" width="0.27" height="14.4" fill="#E41A1C"/>
<rect x="247.55" y="769.73" width="0.16" height="14.4" fill="#1F78B4"/>
<text x="225.07" y="472.55" font-size="5" fill="#111" text-anchor="end" stroke="#111" stroke-width="0.15">87578</text>
<text x="260.39" y="472.55" font-size="5" fill="#111" text-anchor="start" stroke="#111" stroke-width="0.15">27343</text>
<text x="188.44" y="488.72" font-size="5" fill="#111" text-anchor="end" stroke="#111" stroke-width="0.15">238508</text>
<text x="299.09" y="488.72" font-size="5" fill="#111" text-anchor="start" stroke="#111" stroke-width="0.15">182831</text>
<text x="149.22" y="504.89" font-size="5" fill="#111" text-anchor="end" stroke="#111" stroke-width="0.15">401375</text>
<text x="365.89" y="504.89" font-size="5" fill="#111" text-anchor="start" stroke="#111" stroke-width="0.15">460215</text>
<text x="140.98" y="521.06" font-size="5" fill="#111" text-anchor="end" stroke="#111" stroke-width="0.15">435580</text>
<text x="371.33" y="521.06" font-size="5" fill="#111" text-anchor="start" stroke="#111" stroke-width="0.15">482790</text>
<text x="165.96" y="537.23" font-size="5" fill="#111" text-anchor="end" stroke="#111" stroke-width="0.15">331875</text>
<text x="361.56" y="537.23" font-size="5" fill="#111" text-anchor="start" stroke="#111" stroke-width="0.15">442237</text>
<text x="178.5" y="553.4" font-size="5" fill="#111" text-anchor="end" stroke="#111" stroke-width="0.15">279790</text>
<text x="353.29" y="553.4" font-size="5" fill="#111" text-anchor="start" stroke="#111" stroke-width="0.15">407896</text>
<text x="199.61" y="569.57" font-size="5" fill="#111" text-anchor="end" stroke="#111" stroke-width="0.15">192136</text>
<text x="327.91" y="569.57" font-size="5" fill="#111" text-anchor="start" stroke="#111" stroke-width="0.15">302505</text>
<text x="223.58" y="585.74" font-size="5" fill="#111" text-anchor="end" stroke="#111" stroke-width="0.15">93741</text>
<text x="296.25" y="585.74" font-size="5" fill="#111" text-anchor="start" stroke="#111" stroke-width="0.15">171036</text>
<text x="228.22" y="601.91" font-size="5" fill="#111" text-anchor="end" stroke="#111" stroke-width="0.15">74511</text>
<text x="290.6" y="601.91" font-size="5" fill="#111" text-anchor="start" stroke="#111" stroke-width="0.15">147580</text>
<text x="235.16" y="618.08" font-size="5" fill="#111" text-anchor="end" stroke="#111" stroke-width="0.15">45680</text>
<text x="279.89" y="618.08" font-size="5" fill="#111" text-anchor="start" stroke="#111" stroke-width="0.15">103099</text>
<text x="241.17" y="634.25" font-size="5" fill="#111" text-anchor="end" stroke="#111" stroke-width="0.15">20701</text>
<text x="266.86" y="634.25" font-size="5" fill="#111" text-anchor="start" stroke="#111" stroke-width="0.15">54227</text>
<text x="243.68" y="650.42" font-size="5" fill="#111" text-anchor="end" stroke="#111" stroke-width="0.15">10316</text>
<text x="261.75" y="650.42" font-size="5" fill="#111" text-anchor="start" stroke="#111" stroke-width="0.15">32973</text>
<text x="245.02" y="666.59" font-size="5" fill="#111" text-anchor="end" stroke="#111" stroke-width="0.15">5878</text>
<text x="258.87" y="666.59" font-size="5" fill="#111" text-anchor="start" stroke="#111" stroke-width="0.15">21028</text>
<text x="245.56" y="682.76" font-size="5" fill="#111" text-anchor="end" stroke="#111" stroke-width="0.15">3664</text>
<text x="257.04" y="682.76" font-size="5" fill="#111" text-anchor="start" stroke="#111" stroke-width="0.15">13412</text>
<text x="246.06" y="698.93" font-size="5" fill="#111" text-anchor="end" stroke="#111" stroke-width="0.15">1569</text>
<text x="253.78" y="698.93" font-size="5" fill="#111" text-anchor="start" stroke="#111" stroke-width="0.15">5097</text>
<text x="246.17" y="715.1" font-size="5" fill="#111" text-anchor="end" stroke="#111" stroke-width="0.15">1099</text>
<text x="253.26" y="715.1" font-size="5" fill="#111" text-anchor="start" stroke="#111" stroke-width="0.15">2919</text>
<text x="246.57" y="731.27" font-size="5" fill="#111" text-anchor="end" stroke="#111" stroke-width="0.15">589</text>
<text x="252.9" y="731.27" font-size="5" fill="#111" text-anchor="start" stroke="#111" stroke-width="0.15">1425</text>
<text x="246.66" y="747.44" font-size="5" fill="#111" text-anchor="end" stroke="#111" stroke-width="0.15">229</text>
<text x="251.39" y="747.44" font-size="5" fill="#111" text-anchor="start" stroke="#111" stroke-width="0.15">368</text>
<text x="246.66" y="763.61" font-size="5" fill="#111" text-anchor="end" stroke="#111" stroke-width="0.15">214</text>
<text x="251.39" y="763.61" font-size="5" fill="#111" text-anchor="start" stroke="#111" stroke-width="0.15">341</text>
<text x="246.61" y="779.78" font-size="5" fill="#111" text-anchor="end" stroke="#111" stroke-width="0.15">436</text>
<text x="251.46" y="779.78" font-size="5" fill="#111" text-anchor="start" stroke="#111" stroke-width="0.15">669</text>
<line x1="95.6" y1="469.7" x2="98.3" y2="469.7" stroke="#333333" stroke-width="1"/>
<text x="92.6" y="473.8" font-size="8.8" fill="#4D4D4D" text-anchor="end" stroke="#4D4D4D" stroke-width="0.26">95+</text>
<line x1="95.6" y1="485.87" x2="98.3" y2="485.87" stroke="#333333" stroke-width="1"/>
<text x="92.6" y="489.97" font-size="8.8" fill="#4D4D4D" text-anchor="end" stroke="#4D4D4D" stroke-width="0.26">90-94</text>
<line x1="95.6" y1="502.04" x2="98.3" y2="502.04" stroke="#333333" stroke-width="1"/>
<text x="92.6" y="506.14" font-size="8.8" fill="#4D4D4D" text-anchor="end" stroke="#4D4D4D" stroke-width="0.26">85-89</text>
<line x1="95.6" y1="518.21" x2="98.3" y2="518.21" stroke="#333333" stroke-width="1"/>
<text x="92.6" y="522.31" font-size="8.8" fill="#4D4D4D" text-anchor="end" stroke="#4D4D4D" stroke-width="0.26">80-84</text>
<line x1="95.6" y1="534.38" x2="98.3" y2="534.38" stroke="#333333" stroke-width="1"/>
<text x="92.6" y="538.48" font-size="8.8" fill="#4D4D4D" text-anchor="end" stroke="#4D4D4D" stroke-width="0.26">75-79</text>
<line x1="95.6" y1="550.55" x2="98.3" y2="550.55" stroke="#333333" stroke-width="1"/>
<text x="92.6" y="554.65" font-size="8.8" fill="#4D4D4D" text-anchor="end" stroke="#4D4D4D" stroke-width="0.26">70-74</text>
<line x1="95.6" y1="566.72" x2="98.3" y2="566.72" stroke="#333333" stroke-width="1"/>
<text x="92.6" y="570.82" font-size="8.8" fill="#4D4D4D" text-anchor="end" stroke="#4D4D4D" stroke-width="0.26">65-69</text>
<line x1="95.6" y1="582.89" x2="98.3" y2="582.89" stroke="#333333" stroke-width="1"/>
<text x="92.6" y="586.99" font-size="8.8" fill="#4D4D4D" text-anchor="end" stroke="#4D4D4D" stroke-width="0.26">60-64</text>
<line x1="95.6" y1="599.06" x2="98.3" y2="599.06" stroke="#333333" stroke-width="1"/>
<text x="92.6" y="603.16" font-size="8.8" fill="#4D4D4D" text-anchor="end" stroke="#4D4D4D" stroke-width="0.26">55-59</text>
<line x1="95.6" y1="615.23" x2="98.3" y2="615.23" stroke="#333333" stroke-width="1"/>
<text x="92.6" y="619.33" font-size="8.8" fill="#4D4D4D" text-anchor="end" stroke="#4D4D4D" stroke-width="0.26">50-54</text>
<line x1="95.6" y1="631.4" x2="98.3" y2="631.4" stroke="#333333" stroke-width="1"/>
<text x="92.6" y="635.5" font-size="8.8" fill="#4D4D4D" text-anchor="end" stroke="#4D4D4D" stroke-width="0.26">45-49</text>
<line x1="95.6" y1="647.57" x2="98.3" y2="647.57" stroke="#333333" stroke-width="1"/>
<text x="92.6" y="651.67" font-size="8.8" fill="#4D4D4D" text-anchor="end" stroke="#4D4D4D" stroke-width="0.26">40-44</text>
<line x1="95.6" y1="663.74" x2="98.3" y2="663.74" stroke="#333333" stroke-width="1"/>
<text x="92.6" y="667.84" font-size="8.8" fill="#4D4D4D" text-anchor="end" stroke="#4D4D4D" stroke-width="0.26">35-39</text>
<line x1="95.6" y1="679.91" x2="98.3" y2="679.91" stroke="#333333" stroke-width="1"/>
<text x="92.6" y="684.01" font-size="8.8" fill="#4D4D4D" text-anchor="end" stroke="#4D4D4D" stroke-width="0.26">30-34</text>
<line x1="95.6" y1="696.08" x2="98.3" y2="696.08" stroke="#333333" stroke-width="1"/>
<text x="92.6" y="700.18" font-size="8.8" fill="#4D4D4D" text-anchor="end" stroke="#4D4D4D" stroke-width="0.26">25-29</text>
<line x1="95.6" y1="712.25" x2="98.3" y2="712.25" stroke="#333333" stroke-width="1"/>
<text x="92.6" y="716.35" font-size="8.8" fill="#4D4D4D" text-anchor="end" stroke="#4D4D4D" stroke-width="0.26">20-24</text>
<line x1="95.6" y1="728.42" x2="98.3" y2="728.42" stroke="#333333" stroke-width="1"/>
<text x="92.6" y="732.52" font-size="8.8" fill="#4D4D4D" text-anchor="end" stroke="#4D4D4D" stroke-width="0.26">15-19</text>
<line x1="95.6" y1="744.59" x2="98.3" y2="744.59" stroke="#333333" stroke-width="1"/>
<text x="92.6" y="748.69" font-size="8.8" fill="#4D4D4D" text-anchor="end" stroke="#4D4D4D" stroke-width="0.26">10-14</text>
<line x1="95.6" y1="760.76" x2="98.3" y2="760.76" stroke="#333333" stroke-width="1"/>
<text x="92.6" y="764.86" font-size="8.8" fill="#4D4D4D" text-anchor="end" stroke="#4D4D4D" stroke-width="0.26">5-9</text>
<line x1="95.6" y1="776.93" x2="98.3" y2="776.93" stroke="#333333" stroke-width="1"/>
<text x="92.6" y="781.03" font-size="8.8" fill="#4D4D4D" text-anchor="end" stroke="#4D4D4D" stroke-width="0.26">&lt;5</text>
<text transform="translate(68.2 623.7) rotate(-90)" font-size="10.5" fill="#000" stroke="#000" stroke-width="0.32" text-anchor="middle">Age</text>
<line x1="103.05" y1="785.8" x2="103.05" y2="788.7" stroke="#333333" stroke-width="1"/>
<text x="103.05" y="798.5" font-size="8.8" fill="#4D4D4D" text-anchor="middle" stroke="#4D4D4D" stroke-width="0.26">600000</text>
<line x1="175.3" y1="785.8" x2="175.3" y2="788.7" stroke="#333333" stroke-width="1"/>
<text x="175.3" y="798.5" font-size="8.8" fill="#4D4D4D" text-anchor="middle" stroke="#4D4D4D" stroke-width="0.26">300000</text>
<line x1="247.55" y1="785.8" x2="247.55" y2="788.7" stroke="#333333" stroke-width="1"/>
<text x="252.25" y="798.5" font-size="8.8" fill="#4D4D4D" text-anchor="middle" stroke="#4D4D4D" stroke-width="0.26">0</text>
<line x1="319.8" y1="785.8" x2="319.8" y2="788.7" stroke="#333333" stroke-width="1"/>
<text x="319.8" y="798.5" font-size="8.8" fill="#4D4D4D" text-anchor="middle" stroke="#4D4D4D" stroke-width="0.26">300000</text>
<line x1="392.05" y1="785.8" x2="392.05" y2="788.7" stroke="#333333" stroke-width="1"/>
<text x="392.05" y="798.5" font-size="8.8" fill="#4D4D4D" text-anchor="middle" stroke="#4D4D4D" stroke-width="0.26">600000</text>
<text x="252.05" y="810.8" font-size="10.5" fill="#000" text-anchor="middle" stroke="#000" stroke-width="0.32">The Numbers of Deaths</text>
<text x="422.4" y="608.6" font-size="10.5" fill="#000" text-anchor="start" stroke="#000" stroke-width="0.32">Sex</text>
<rect x="423" y="613.4" width="16.9" height="16.9" fill="#F2F2F2"/>
<rect x="423.9" y="614.3" width="15.1" height="15.1" fill="#E41A1C"/>
<text x="444.6" y="626.2" font-size="8.8" fill="#000" text-anchor="start" stroke="#000" stroke-width="0.26">Female</text>
<rect x="423" y="630.3" width="16.9" height="16.9" fill="#F2F2F2"/>
<rect x="423.9" y="631.2" width="15.1" height="15.1" fill="#1F78B4"/>
<text x="444.6" y="643.1" font-size="8.8" fill="#000" text-anchor="start" stroke="#000" stroke-width="0.26">Male</text>
</g><g id="G1">
<rect x="617.1" y="460" width="308.7" height="325.8" fill="#EBEBEB"/>
<line x1="641.38" y1="460" x2="641.38" y2="785.8" stroke="#FFFFFF" stroke-width="0.75"/>
<line x1="715.32" y1="460" x2="715.32" y2="785.8" stroke="#FFFFFF" stroke-width="0.75"/>
<line x1="789.27" y1="460" x2="789.27" y2="785.8" stroke="#FFFFFF" stroke-width="0.75"/>
<line x1="863.22" y1="460" x2="863.22" y2="785.8" stroke="#FFFFFF" stroke-width="0.75"/>
<line x1="678.35" y1="460" x2="678.35" y2="785.8" stroke="#FFFFFF" stroke-width="1.1"/>
<line x1="752.3" y1="460" x2="752.3" y2="785.8" stroke="#FFFFFF" stroke-width="1.1"/>
<line x1="826.25" y1="460" x2="826.25" y2="785.8" stroke="#FFFFFF" stroke-width="1.1"/>
<line x1="900.2" y1="460" x2="900.2" y2="785.8" stroke="#FFFFFF" stroke-width="1.1"/>
<line x1="617.1" y1="469.7" x2="925.8" y2="469.7" stroke="#FFFFFF" stroke-width="1.1"/>
<line x1="617.1" y1="485.87" x2="925.8" y2="485.87" stroke="#FFFFFF" stroke-width="1.1"/>
<line x1="617.1" y1="502.04" x2="925.8" y2="502.04" stroke="#FFFFFF" stroke-width="1.1"/>
<line x1="617.1" y1="518.21" x2="925.8" y2="518.21" stroke="#FFFFFF" stroke-width="1.1"/>
<line x1="617.1" y1="534.38" x2="925.8" y2="534.38" stroke="#FFFFFF" stroke-width="1.1"/>
<line x1="617.1" y1="550.55" x2="925.8" y2="550.55" stroke="#FFFFFF" stroke-width="1.1"/>
<line x1="617.1" y1="566.72" x2="925.8" y2="566.72" stroke="#FFFFFF" stroke-width="1.1"/>
<line x1="617.1" y1="582.89" x2="925.8" y2="582.89" stroke="#FFFFFF" stroke-width="1.1"/>
<line x1="617.1" y1="599.06" x2="925.8" y2="599.06" stroke="#FFFFFF" stroke-width="1.1"/>
<line x1="617.1" y1="615.23" x2="925.8" y2="615.23" stroke="#FFFFFF" stroke-width="1.1"/>
<line x1="617.1" y1="631.4" x2="925.8" y2="631.4" stroke="#FFFFFF" stroke-width="1.1"/>
<line x1="617.1" y1="647.57" x2="925.8" y2="647.57" stroke="#FFFFFF" stroke-width="1.1"/>
<line x1="617.1" y1="663.74" x2="925.8" y2="663.74" stroke="#FFFFFF" stroke-width="1.1"/>
<line x1="617.1" y1="679.91" x2="925.8" y2="679.91" stroke="#FFFFFF" stroke-width="1.1"/>
<line x1="617.1" y1="696.08" x2="925.8" y2="696.08" stroke="#FFFFFF" stroke-width="1.1"/>
<line x1="617.1" y1="712.25" x2="925.8" y2="712.25" stroke="#FFFFFF" stroke-width="1.1"/>
<line x1="617.1" y1="728.42" x2="925.8" y2="728.42" stroke="#FFFFFF" stroke-width="1.1"/>
<line x1="617.1" y1="744.59" x2="925.8" y2="744.59" stroke="#FFFFFF" stroke-width="1.1"/>
<line x1="617.1" y1="760.76" x2="925.8" y2="760.76" stroke="#FFFFFF" stroke-width="1.1"/>
<line x1="617.1" y1="776.93" x2="925.8" y2="776.93" stroke="#FFFFFF" stroke-width="1.1"/>
<rect x="741.41" y="462.5" width="11.49" height="14.4" fill="#E41A1C"/>
<rect x="752.3" y="462.5" width="3.39" height="14.4" fill="#1F78B4"/>
<rect x="720.56" y="478.67" width="32.34" height="14.4" fill="#E41A1C"/>
<rect x="752.3" y="478.67" width="23.81" height="14.4" fill="#1F78B4"/>
<rect x="690.02" y="494.84" width="62.88" height="14.4" fill="#E41A1C"/>
<rect x="752.3" y="494.84" width="69.48" height="14.4" fill="#1F78B4"/>
<rect x="666.61" y="511.01" width="86.29" height="14.4" fill="#E41A1C"/>
<rect x="752.3" y="511.01" width="94.46" height="14.4" fill="#1F78B4"/>
<rect x="667.06" y="527.18" width="85.84" height="14.4" fill="#E41A1C"/>
<rect x="752.3" y="527.18" width="112.51" height="14.4" fill="#1F78B4"/>
<rect x="661.04" y="543.35" width="91.86" height="14.4" fill="#E41A1C"/>
<rect x="752.3" y="543.35" width="130.02" height="14.4" fill="#1F78B4"/>
<rect x="674.88" y="559.52" width="78.02" height="14.4" fill="#E41A1C"/>
<rect x="752.3" y="559.52" width="118" height="14.4" fill="#1F78B4"/>
<rect x="707.2" y="575.69" width="45.7" height="14.4" fill="#E41A1C"/>
<rect x="752.3" y="575.69" width="78.75" height="14.4" fill="#1F78B4"/>
<rect x="709.7" y="591.86" width="43.2" height="14.4" fill="#E41A1C"/>
<rect x="752.3" y="591.86" width="79.2" height="14.4" fill="#1F78B4"/>
<rect x="722.51" y="608.03" width="30.39" height="14.4" fill="#E41A1C"/>
<rect x="752.3" y="608.03" width="62.75" height="14.4" fill="#1F78B4"/>
<rect x="736.52" y="624.2" width="16.38" height="14.4" fill="#E41A1C"/>
<rect x="752.3" y="624.2" width="37.25" height="14.4" fill="#1F78B4"/>
<rect x="743.38" y="640.37" width="9.52" height="14.4" fill="#E41A1C"/>
<rect x="752.3" y="640.37" width="24.99" height="14.4" fill="#1F78B4"/>
<rect x="746.25" y="656.54" width="6.65" height="14.4" fill="#E41A1C"/>
<rect x="752.3" y="656.54" width="17.81" height="14.4" fill="#1F78B4"/>
<rect x="747.83" y="672.71" width="5.07" height="14.4" fill="#E41A1C"/>
<rect x="752.3" y="672.71" width="12.64" height="14.4" fill="#1F78B4"/>
<rect x="750.06" y="688.88" width="2.84" height="14.4" fill="#E41A1C"/>
<rect x="752.3" y="688.88" width="5.42" height="14.4" fill="#1F78B4"/>
<rect x="750.64" y="705.05" width="2.26" height="14.4" fill="#E41A1C"/>
<rect x="752.3" y="705.05" width="3.43" height="14.4" fill="#1F78B4"/>
<rect x="751.2" y="721.22" width="1.7" height="14.4" fill="#E41A1C"/>
<rect x="752.3" y="721.22" width="1.96" height="14.4" fill="#1F78B4"/>
<rect x="751.63" y="737.39" width="1.27" height="14.4" fill="#E41A1C"/>
<rect x="752.3" y="737.39" width="0.82" height="14.4" fill="#1F78B4"/>
<rect x="751.78" y="753.56" width="1.12" height="14.4" fill="#E41A1C"/>
<rect x="752.3" y="753.56" width="0.67" height="14.4" fill="#1F78B4"/>
<rect x="751.65" y="769.73" width="1.25" height="14.4" fill="#E41A1C"/>
<rect x="752.3" y="769.73" width="0.96" height="14.4" fill="#1F78B4"/>
<text x="739.74" y="472.55" font-size="5" fill="#111" text-anchor="end" stroke="#111" stroke-width="0.15">736405</text>
<text x="763.19" y="472.55" font-size="5" fill="#111" text-anchor="start" stroke="#111" stroke-width="0.15">229020</text>
<text x="718.61" y="488.72" font-size="5" fill="#111" text-anchor="end" stroke="#111" stroke-width="0.15">2146060</text>
<text x="784.86" y="488.72" font-size="5" fill="#111" text-anchor="start" stroke="#111" stroke-width="0.15">1609703</text>
<text x="688.07" y="504.89" font-size="5" fill="#111" text-anchor="end" stroke="#111" stroke-width="0.15">4211116</text>
<text x="830.54" y="504.89" font-size="5" fill="#111" text-anchor="start" stroke="#111" stroke-width="0.15">4697981</text>
<text x="664.66" y="521.06" font-size="5" fill="#111" text-anchor="end" stroke="#111" stroke-width="0.15">5793922</text>
<text x="855.52" y="521.06" font-size="5" fill="#111" text-anchor="start" stroke="#111" stroke-width="0.15">6386746</text>
<text x="665.11" y="537.23" font-size="5" fill="#111" text-anchor="end" stroke="#111" stroke-width="0.15">5763384</text>
<text x="873.56" y="537.23" font-size="5" fill="#111" text-anchor="start" stroke="#111" stroke-width="0.15">7606861</text>
<text x="659.1" y="553.4" font-size="5" fill="#111" text-anchor="end" stroke="#111" stroke-width="0.15">6170127</text>
<text x="891.08" y="553.4" font-size="5" fill="#111" text-anchor="start" stroke="#111" stroke-width="0.15">8791342</text>
<text x="672.94" y="569.57" font-size="5" fill="#111" text-anchor="end" stroke="#111" stroke-width="0.15">5234458</text>
<text x="879.05" y="569.57" font-size="5" fill="#111" text-anchor="start" stroke="#111" stroke-width="0.15">7978069</text>
<text x="705.26" y="585.74" font-size="5" fill="#111" text-anchor="end" stroke="#111" stroke-width="0.15">3049210</text>
<text x="839.8" y="585.74" font-size="5" fill="#111" text-anchor="start" stroke="#111" stroke-width="0.15">5324375</text>
<text x="707.75" y="601.91" font-size="5" fill="#111" text-anchor="end" stroke="#111" stroke-width="0.15">2880589</text>
<text x="840.26" y="601.91" font-size="5" fill="#111" text-anchor="start" stroke="#111" stroke-width="0.15">5354899</text>
<text x="720.56" y="618.08" font-size="5" fill="#111" text-anchor="end" stroke="#111" stroke-width="0.15">2014205</text>
<text x="823.8" y="618.08" font-size="5" fill="#111" text-anchor="start" stroke="#111" stroke-width="0.15">4242593</text>
<text x="734.58" y="634.25" font-size="5" fill="#111" text-anchor="end" stroke="#111" stroke-width="0.15">1066672</text>
<text x="798.31" y="634.25" font-size="5" fill="#111" text-anchor="start" stroke="#111" stroke-width="0.15">2518591</text>
<text x="741.71" y="650.42" font-size="5" fill="#111" text-anchor="end" stroke="#111" stroke-width="0.15">603204</text>
<text x="786.04" y="650.42" font-size="5" fill="#111" text-anchor="start" stroke="#111" stroke-width="0.15">1689356</text>
<text x="744.58" y="666.59" font-size="5" fill="#111" text-anchor="end" stroke="#111" stroke-width="0.15">409106</text>
<text x="778.87" y="666.59" font-size="5" fill="#111" text-anchor="start" stroke="#111" stroke-width="0.15">1204327</text>
<text x="746.16" y="682.76" font-size="5" fill="#111" text-anchor="end" stroke="#111" stroke-width="0.15">302051</text>
<text x="772.44" y="682.76" font-size="5" fill="#111" text-anchor="start" stroke="#111" stroke-width="0.15">854559</text>
<text x="748.39" y="698.93" font-size="5" fill="#111" text-anchor="end" stroke="#111" stroke-width="0.15">151502</text>
<text x="765.23" y="698.93" font-size="5" fill="#111" text-anchor="start" stroke="#111" stroke-width="0.15">366708</text>
<text x="748.97" y="715.1" font-size="5" fill="#111" text-anchor="end" stroke="#111" stroke-width="0.15">112493</text>
<text x="763.23" y="715.1" font-size="5" fill="#111" text-anchor="start" stroke="#111" stroke-width="0.15">231645</text>
<text x="749.81" y="731.27" font-size="5" fill="#111" text-anchor="end" stroke="#111" stroke-width="0.15">74241</text>
<text x="761.77" y="731.27" font-size="5" fill="#111" text-anchor="start" stroke="#111" stroke-width="0.15">132806</text>
<text x="750.24" y="747.44" font-size="5" fill="#111" text-anchor="end" stroke="#111" stroke-width="0.15">45159</text>
<text x="759.37" y="747.44" font-size="5" fill="#111" text-anchor="start" stroke="#111" stroke-width="0.15">55437</text>
<text x="750.39" y="763.61" font-size="5" fill="#111" text-anchor="end" stroke="#111" stroke-width="0.15">35324</text>
<text x="759.23" y="763.61" font-size="5" fill="#111" text-anchor="start" stroke="#111" stroke-width="0.15">45405</text>
<text x="750.26" y="779.78" font-size="5" fill="#111" text-anchor="end" stroke="#111" stroke-width="0.15">43988</text>
<text x="759.52" y="779.78" font-size="5" fill="#111" text-anchor="start" stroke="#111" stroke-width="0.15">65097</text>
<line x1="614.4" y1="469.7" x2="617.1" y2="469.7" stroke="#333333" stroke-width="1"/>
<text x="611.4" y="473.8" font-size="8.8" fill="#4D4D4D" text-anchor="end" stroke="#4D4D4D" stroke-width="0.26">95+</text>
<line x1="614.4" y1="485.87" x2="617.1" y2="485.87" stroke="#333333" stroke-width="1"/>
<text x="611.4" y="489.97" font-size="8.8" fill="#4D4D4D" text-anchor="end" stroke="#4D4D4D" stroke-width="0.26">90-94</text>
<line x1="614.4" y1="502.04" x2="617.1" y2="502.04" stroke="#333333" stroke-width="1"/>
<text x="611.4" y="506.14" font-size="8.8" fill="#4D4D4D" text-anchor="end" stroke="#4D4D4D" stroke-width="0.26">85-89</text>
<line x1="614.4" y1="518.21" x2="617.1" y2="518.21" stroke="#333333" stroke-width="1"/>
<text x="611.4" y="522.31" font-size="8.8" fill="#4D4D4D" text-anchor="end" stroke="#4D4D4D" stroke-width="0.26">80-84</text>
<line x1="614.4" y1="534.38" x2="617.1" y2="534.38" stroke="#333333" stroke-width="1"/>
<text x="611.4" y="538.48" font-size="8.8" fill="#4D4D4D" text-anchor="end" stroke="#4D4D4D" stroke-width="0.26">75-79</text>
<line x1="614.4" y1="550.55" x2="617.1" y2="550.55" stroke="#333333" stroke-width="1"/>
<text x="611.4" y="554.65" font-size="8.8" fill="#4D4D4D" text-anchor="end" stroke="#4D4D4D" stroke-width="0.26">70-74</text>
<line x1="614.4" y1="566.72" x2="617.1" y2="566.72" stroke="#333333" stroke-width="1"/>
<text x="611.4" y="570.82" font-size="8.8" fill="#4D4D4D" text-anchor="end" stroke="#4D4D4D" stroke-width="0.26">65-69</text>
<line x1="614.4" y1="582.89" x2="617.1" y2="582.89" stroke="#333333" stroke-width="1"/>
<text x="611.4" y="586.99" font-size="8.8" fill="#4D4D4D" text-anchor="end" stroke="#4D4D4D" stroke-width="0.26">60-64</text>
<line x1="614.4" y1="599.06" x2="617.1" y2="599.06" stroke="#333333" stroke-width="1"/>
<text x="611.4" y="603.16" font-size="8.8" fill="#4D4D4D" text-anchor="end" stroke="#4D4D4D" stroke-width="0.26">55-59</text>
<line x1="614.4" y1="615.23" x2="617.1" y2="615.23" stroke="#333333" stroke-width="1"/>
<text x="611.4" y="619.33" font-size="8.8" fill="#4D4D4D" text-anchor="end" stroke="#4D4D4D" stroke-width="0.26">50-54</text>
<line x1="614.4" y1="631.4" x2="617.1" y2="631.4" stroke="#333333" stroke-width="1"/>
<text x="611.4" y="635.5" font-size="8.8" fill="#4D4D4D" text-anchor="end" stroke="#4D4D4D" stroke-width="0.26">45-49</text>
<line x1="614.4" y1="647.57" x2="617.1" y2="647.57" stroke="#333333" stroke-width="1"/>
<text x="611.4" y="651.67" font-size="8.8" fill="#4D4D4D" text-anchor="end" stroke="#4D4D4D" stroke-width="0.26">40-44</text>
<line x1="614.4" y1="663.74" x2="617.1" y2="663.74" stroke="#333333" stroke-width="1"/>
<text x="611.4" y="667.84" font-size="8.8" fill="#4D4D4D" text-anchor="end" stroke="#4D4D4D" stroke-width="0.26">35-39</text>
<line x1="614.4" y1="679.91" x2="617.1" y2="679.91" stroke="#333333" stroke-width="1"/>
<text x="611.4" y="684.01" font-size="8.8" fill="#4D4D4D" text-anchor="end" stroke="#4D4D4D" stroke-width="0.26">30-34</text>
<line x1="614.4" y1="696.08" x2="617.1" y2="696.08" stroke="#333333" stroke-width="1"/>
<text x="611.4" y="700.18" font-size="8.8" fill="#4D4D4D" text-anchor="end" stroke="#4D4D4D" stroke-width="0.26">25-29</text>
<line x1="614.4" y1="712.25" x2="617.1" y2="712.25" stroke="#333333" stroke-width="1"/>
<text x="611.4" y="716.35" font-size="8.8" fill="#4D4D4D" text-anchor="end" stroke="#4D4D4D" stroke-width="0.26">20-24</text>
<line x1="614.4" y1="728.42" x2="617.1" y2="728.42" stroke="#333333" stroke-width="1"/>
<text x="611.4" y="732.52" font-size="8.8" fill="#4D4D4D" text-anchor="end" stroke="#4D4D4D" stroke-width="0.26">15-19</text>
<line x1="614.4" y1="744.59" x2="617.1" y2="744.59" stroke="#333333" stroke-width="1"/>
<text x="611.4" y="748.69" font-size="8.8" fill="#4D4D4D" text-anchor="end" stroke="#4D4D4D" stroke-width="0.26">10-14</text>
<line x1="614.4" y1="760.76" x2="617.1" y2="760.76" stroke="#333333" stroke-width="1"/>
<text x="611.4" y="764.86" font-size="8.8" fill="#4D4D4D" text-anchor="end" stroke="#4D4D4D" stroke-width="0.26">5-9</text>
<line x1="614.4" y1="776.93" x2="617.1" y2="776.93" stroke="#333333" stroke-width="1"/>
<text x="611.4" y="781.03" font-size="8.8" fill="#4D4D4D" text-anchor="end" stroke="#4D4D4D" stroke-width="0.26">&lt;5</text>
<text transform="translate(587 623.7) rotate(-90)" font-size="10.5" fill="#000" stroke="#000" stroke-width="0.32" text-anchor="middle">Age</text>
<line x1="678.35" y1="785.8" x2="678.35" y2="788.7" stroke="#333333" stroke-width="1"/>
<text x="678.75" y="798.5" font-size="8.8" fill="#4D4D4D" text-anchor="middle" stroke="#4D4D4D" stroke-width="0.26">5000000</text>
<line x1="752.3" y1="785.8" x2="752.3" y2="788.7" stroke="#333333" stroke-width="1"/>
<text x="759.7" y="798.5" font-size="8.8" fill="#4D4D4D" text-anchor="middle" stroke="#4D4D4D" stroke-width="0.26">0</text>
<line x1="826.25" y1="785.8" x2="826.25" y2="788.7" stroke="#333333" stroke-width="1"/>
<text x="826.75" y="798.5" font-size="8.8" fill="#4D4D4D" text-anchor="middle" stroke="#4D4D4D" stroke-width="0.26">5000000</text>
<line x1="900.2" y1="785.8" x2="900.2" y2="788.7" stroke="#333333" stroke-width="1"/>
<text x="900.2" y="798.5" font-size="8.8" fill="#4D4D4D" text-anchor="middle" stroke="#4D4D4D" stroke-width="0.26">10000000</text>
<text x="770.65" y="810.8" font-size="10.5" fill="#000" text-anchor="middle" stroke="#000" stroke-width="0.32">The Numbers of DALYs</text>
<text x="940.8" y="608.6" font-size="10.5" fill="#000" text-anchor="start" stroke="#000" stroke-width="0.32">Sex</text>
<rect x="941.4" y="613.4" width="16.9" height="16.9" fill="#F2F2F2"/>
<rect x="942.3" y="614.3" width="15.1" height="15.1" fill="#E41A1C"/>
<text x="963" y="626.2" font-size="8.8" fill="#000" text-anchor="start" stroke="#000" stroke-width="0.26">Female</text>
<rect x="941.4" y="630.3" width="16.9" height="16.9" fill="#F2F2F2"/>
<rect x="942.3" y="631.2" width="15.1" height="15.1" fill="#1F78B4"/>
<text x="963" y="643.1" font-size="8.8" fill="#000" text-anchor="start" stroke="#000" stroke-width="0.26">Male</text>
</g>
<g id="B1">
<rect x="1131.4" y="42.4" width="267.5" height="284.3" fill="#EBEBEB"/>
<line x1="1131.4" y1="282.55" x2="1398.9" y2="282.55" stroke="#FFFFFF" stroke-width="0.75"/>
<line x1="1131.4" y1="218.25" x2="1398.9" y2="218.25" stroke="#FFFFFF" stroke-width="0.75"/>
<line x1="1131.4" y1="153.95" x2="1398.9" y2="153.95" stroke="#FFFFFF" stroke-width="0.75"/>
<line x1="1131.4" y1="89.65" x2="1398.9" y2="89.65" stroke="#FFFFFF" stroke-width="0.75"/>
<line x1="1131.4" y1="314.7" x2="1398.9" y2="314.7" stroke="#FFFFFF" stroke-width="1.1"/>
<line x1="1131.4" y1="250.4" x2="1398.9" y2="250.4" stroke="#FFFFFF" stroke-width="1.1"/>
<line x1="1131.4" y1="186.1" x2="1398.9" y2="186.1" stroke="#FFFFFF" stroke-width="1.1"/>
<line x1="1131.4" y1="121.8" x2="1398.9" y2="121.8" stroke="#FFFFFF" stroke-width="1.1"/>
<line x1="1131.4" y1="57.5" x2="1398.9" y2="57.5" stroke="#FFFFFF" stroke-width="1.1"/>
<line x1="1139.1" y1="42.4" x2="1139.1" y2="326.7" stroke="#FFFFFF" stroke-width="0.8"/>
<line x1="1152.35" y1="42.4" x2="1152.35" y2="326.7" stroke="#FFFFFF" stroke-width="0.8"/>
<line x1="1165.6" y1="42.4" x2="1165.6" y2="326.7" stroke="#FFFFFF" stroke-width="0.8"/>
<line x1="1178.85" y1="42.4" x2="1178.85" y2="326.7" stroke="#FFFFFF" stroke-width="0.8"/>
<line x1="1192.1" y1="42.4" x2="1192.1" y2="326.7" stroke="#FFFFFF" stroke-width="0.8"/>
<line x1="1205.35" y1="42.4" x2="1205.35" y2="326.7" stroke="#FFFFFF" stroke-width="0.8"/>
<line x1="1218.6" y1="42.4" x2="1218.6" y2="326.7" stroke="#FFFFFF" stroke-width="0.8"/>
<line x1="1231.85" y1="42.4" x2="1231.85" y2="326.7" stroke="#FFFFFF" stroke-width="0.8"/>
<line x1="1245.1" y1="42.4" x2="1245.1" y2="326.7" stroke="#FFFFFF" stroke-width="0.8"/>
<line x1="1258.35" y1="42.4" x2="1258.35" y2="326.7" stroke="#FFFFFF" stroke-width="0.8"/>
<line x1="1271.6" y1="42.4" x2="1271.6" y2="326.7" stroke="#FFFFFF" stroke-width="0.8"/>
<line x1="1284.85" y1="42.4" x2="1284.85" y2="326.7" stroke="#FFFFFF" stroke-width="0.8"/>
<line x1="1298.1" y1="42.4" x2="1298.1" y2="326.7" stroke="#FFFFFF" stroke-width="0.8"/>
<line x1="1311.35" y1="42.4" x2="1311.35" y2="326.7" stroke="#FFFFFF" stroke-width="0.8"/>
<line x1="1324.6" y1="42.4" x2="1324.6" y2="326.7" stroke="#FFFFFF" stroke-width="0.8"/>
<line x1="1337.85" y1="42.4" x2="1337.85" y2="326.7" stroke="#FFFFFF" stroke-width="0.8"/>
<line x1="1351.1" y1="42.4" x2="1351.1" y2="326.7" stroke="#FFFFFF" stroke-width="0.8"/>
<line x1="1364.35" y1="42.4" x2="1364.35" y2="326.7" stroke="#FFFFFF" stroke-width="0.8"/>
<line x1="1377.6" y1="42.4" x2="1377.6" y2="326.7" stroke="#FFFFFF" stroke-width="0.8"/>
<line x1="1390.85" y1="42.4" x2="1390.85" y2="326.7" stroke="#FFFFFF" stroke-width="0.8"/>
<clipPath id="c1131"><rect x="1131.4" y="42.4" width="267.5" height="284.3"/></clipPath>
<g clip-path="url(#c1131)">
<polygon points="1139.1,314.51 1152.35,313.22 1165.6,311.91 1178.85,311.16 1192.1,310.61 1205.35,310.06 1218.6,308.58 1231.85,307.03 1245.1,301.66 1258.35,294.23 1271.6,283.46 1284.85,268.26 1298.1,248.65 1311.35,219.31 1324.6,189.14 1337.85,157.81 1351.1,129.84 1364.35,105.08 1377.6,82.26 1390.85,57.5 1390.85,102.51 1377.6,114.73 1364.35,132.41 1351.1,155.56 1337.85,179.67 1324.6,205.57 1311.35,231.79 1298.1,257.29 1284.85,274.34 1271.6,287.55 1258.35,296.91 1245.1,303.37 1231.85,308.03 1218.6,309.38 1205.35,310.66 1192.1,311.14 1178.85,311.62 1165.6,312.28 1152.35,313.41 1139.1,314.54" fill="#4682B4" fill-opacity="0.10"/>
<polygon points="1139.1,314.51 1152.35,313.22 1165.6,311.91 1178.85,311.16 1192.1,310.61 1205.35,310.06 1218.6,309.13 1231.85,307.08 1245.1,301.7 1258.35,294.23 1271.6,283.46 1284.85,269.33 1298.1,248.65 1311.35,217.42 1324.6,184.49 1337.85,149.13 1351.1,116.98 1364.35,102.99 1377.6,90.29 1390.85,75.5 1390.85,137.88 1377.6,137.88 1364.35,141.41 1351.1,152.34 1337.85,173.88 1324.6,201.53 1311.35,230.14 1298.1,257.29 1284.85,275.26 1271.6,287.55 1258.35,296.91 1245.1,303.4 1231.85,308.07 1218.6,309.86 1205.35,310.66 1192.1,311.14 1178.85,311.62 1165.6,312.28 1152.35,313.41 1139.1,314.54" fill="#E41A1C" fill-opacity="0.10"/>
<polyline points="1139.1,314.53 1152.35,313.32 1165.6,312.1 1178.85,311.39 1192.1,310.87 1205.35,310.36 1218.6,308.98 1231.85,307.53 1245.1,302.52 1258.35,295.57 1271.6,285.51 1284.85,271.3 1298.1,252.97 1311.35,225.55 1324.6,197.35 1337.85,168.9 1351.1,142.7 1364.35,118.3 1377.6,97.69 1390.85,79.39" fill="none" stroke="#4682B4" stroke-width="0.75" stroke-linejoin="round"/>
<circle cx="1139.1" cy="314.53" r="1.25" fill="#4682B4"/>
<circle cx="1152.35" cy="313.32" r="1.25" fill="#4682B4"/>
<circle cx="1165.6" cy="312.1" r="1.25" fill="#4682B4"/>
<circle cx="1178.85" cy="311.39" r="1.25" fill="#4682B4"/>
<circle cx="1192.1" cy="310.87" r="1.25" fill="#4682B4"/>
<circle cx="1205.35" cy="310.36" r="1.25" fill="#4682B4"/>
<circle cx="1218.6" cy="308.98" r="1.25" fill="#4682B4"/>
<circle cx="1231.85" cy="307.53" r="1.25" fill="#4682B4"/>
<circle cx="1245.1" cy="302.52" r="1.25" fill="#4682B4"/>
<circle cx="1258.35" cy="295.57" r="1.25" fill="#4682B4"/>
<circle cx="1271.6" cy="285.51" r="1.25" fill="#4682B4"/>
<circle cx="1284.85" cy="271.3" r="1.25" fill="#4682B4"/>
<circle cx="1298.1" cy="252.97" r="1.25" fill="#4682B4"/>
<circle cx="1311.35" cy="225.55" r="1.25" fill="#4682B4"/>
<circle cx="1324.6" cy="197.35" r="1.25" fill="#4682B4"/>
<circle cx="1337.85" cy="168.9" r="1.25" fill="#4682B4"/>
<circle cx="1351.1" cy="142.7" r="1.25" fill="#4682B4"/>
<circle cx="1364.35" cy="118.3" r="1.25" fill="#4682B4"/>
<circle cx="1377.6" cy="97.69" r="1.25" fill="#4682B4"/>
<circle cx="1390.85" cy="79.39" r="1.25" fill="#4682B4"/>
<polyline points="1139.1,314.53 1152.35,313.32 1165.6,312.1 1178.85,311.39 1192.1,310.87 1205.35,310.36 1218.6,309.49 1231.85,307.58 1245.1,302.55 1258.35,295.57 1271.6,285.51 1284.85,272.29 1298.1,252.97 1311.35,223.78 1324.6,193.01 1337.85,162.21 1351.1,136.59 1364.35,123.09 1377.6,112.83 1390.85,103.99" fill="none" stroke="#E41A1C" stroke-width="0.75" stroke-linejoin="round"/>
<circle cx="1139.1" cy="314.53" r="1.25" fill="#E41A1C"/>
<circle cx="1152.35" cy="313.32" r="1.25" fill="#E41A1C"/>
<circle cx="1165.6" cy="312.1" r="1.25" fill="#E41A1C"/>
<circle cx="1178.85" cy="311.39" r="1.25" fill="#E41A1C"/>
<circle cx="1192.1" cy="310.87" r="1.25" fill="#E41A1C"/>
<circle cx="1205.35" cy="310.36" r="1.25" fill="#E41A1C"/>
<circle cx="1218.6" cy="309.49" r="1.25" fill="#E41A1C"/>
<circle cx="1231.85" cy="307.58" r="1.25" fill="#E41A1C"/>
<circle cx="1245.1" cy="302.55" r="1.25" fill="#E41A1C"/>
<circle cx="1258.35" cy="295.57" r="1.25" fill="#E41A1C"/>
<circle cx="1271.6" cy="285.51" r="1.25" fill="#E41A1C"/>
<circle cx="1284.85" cy="272.29" r="1.25" fill="#E41A1C"/>
<circle cx="1298.1" cy="252.97" r="1.25" fill="#E41A1C"/>
<circle cx="1311.35" cy="223.78" r="1.25" fill="#E41A1C"/>
<circle cx="1324.6" cy="193.01" r="1.25" fill="#E41A1C"/>
<circle cx="1337.85" cy="162.21" r="1.25" fill="#E41A1C"/>
<circle cx="1351.1" cy="136.59" r="1.25" fill="#E41A1C"/>
<circle cx="1364.35" cy="123.09" r="1.25" fill="#E41A1C"/>
<circle cx="1377.6" cy="112.83" r="1.25" fill="#E41A1C"/>
<circle cx="1390.85" cy="103.99" r="1.25" fill="#E41A1C"/>
</g>
<line x1="1129" y1="314.7" x2="1131.4" y2="314.7" stroke="#333333" stroke-width="0.9"/>
<text x="1126.5" y="318.3" font-size="7.7" fill="#4D4D4D" text-anchor="end" stroke="#4D4D4D" stroke-width="0.23">0</text>
<line x1="1129" y1="250.4" x2="1131.4" y2="250.4" stroke="#333333" stroke-width="0.9"/>
<text x="1126.5" y="254" font-size="7.7" fill="#4D4D4D" text-anchor="end" stroke="#4D4D4D" stroke-width="0.23">20000</text>
<line x1="1129" y1="186.1" x2="1131.4" y2="186.1" stroke="#333333" stroke-width="0.9"/>
<text x="1126.5" y="189.7" font-size="7.7" fill="#4D4D4D" text-anchor="end" stroke="#4D4D4D" stroke-width="0.23">40000</text>
<line x1="1129" y1="121.8" x2="1131.4" y2="121.8" stroke="#333333" stroke-width="0.9"/>
<text x="1126.5" y="125.4" font-size="7.7" fill="#4D4D4D" text-anchor="end" stroke="#4D4D4D" stroke-width="0.23">60000</text>
<line x1="1129" y1="57.5" x2="1131.4" y2="57.5" stroke="#333333" stroke-width="0.9"/>
<text x="1126.5" y="61.1" font-size="7.7" fill="#4D4D4D" text-anchor="end" stroke="#4D4D4D" stroke-width="0.23">80000</text>
<text transform="translate(1103.4 186.95) rotate(-90)" font-size="9.2" fill="#000" stroke="#000" stroke-width="0.28" text-anchor="middle">The Rate of Prevalence</text>
<line x1="1139.1" y1="326.7" x2="1139.1" y2="329.1" stroke="#333333" stroke-width="0.9"/>
<text transform="translate(1139.1 336.65) scale(0.9 1)" font-size="4.6" fill="#111" stroke="#111" stroke-width="0.1" text-anchor="middle">&lt;5</text>
<line x1="1152.35" y1="326.7" x2="1152.35" y2="329.1" stroke="#333333" stroke-width="0.9"/>
<text transform="translate(1152.35 336.65) scale(0.9 1)" font-size="4.6" fill="#111" stroke="#111" stroke-width="0.1" text-anchor="middle">5-9</text>
<line x1="1165.6" y1="326.7" x2="1165.6" y2="329.1" stroke="#333333" stroke-width="0.9"/>
<text transform="translate(1165.6 336.65) scale(0.9 1)" font-size="4.6" fill="#111" stroke="#111" stroke-width="0.1" text-anchor="middle">10-14</text>
<line x1="1178.85" y1="326.7" x2="1178.85" y2="329.1" stroke="#333333" stroke-width="0.9"/>
<text transform="translate(1178.85 336.65) scale(0.9 1)" font-size="4.6" fill="#111" stroke="#111" stroke-width="0.1" text-anchor="middle">15-19</text>
<line x1="1192.1" y1="326.7" x2="1192.1" y2="329.1" stroke="#333333" stroke-width="0.9"/>
<text transform="translate(1192.1 336.65) scale(0.9 1)" font-size="4.6" fill="#111" stroke="#111" stroke-width="0.1" text-anchor="middle">20-24</text>
<line x1="1205.35" y1="326.7" x2="1205.35" y2="329.1" stroke="#333333" stroke-width="0.9"/>
<text transform="translate(1205.35 336.65) scale(0.9 1)" font-size="4.6" fill="#111" stroke="#111" stroke-width="0.1" text-anchor="middle">25-29</text>
<line x1="1218.6" y1="326.7" x2="1218.6" y2="329.1" stroke="#333333" stroke-width="0.9"/>
<text transform="translate(1218.6 336.65) scale(0.9 1)" font-size="4.6" fill="#111" stroke="#111" stroke-width="0.1" text-anchor="middle">30-34</text>
<line x1="1231.85" y1="326.7" x2="1231.85" y2="329.1" stroke="#333333" stroke-width="0.9"/>
<text transform="translate(1231.85 336.65) scale(0.9 1)" font-size="4.6" fill="#111" stroke="#111" stroke-width="0.1" text-anchor="middle">35-39</text>
<line x1="1245.1" y1="326.7" x2="1245.1" y2="329.1" stroke="#333333" stroke-width="0.9"/>
<text transform="translate(1245.1 336.65) scale(0.9 1)" font-size="4.6" fill="#111" stroke="#111" stroke-width="0.1" text-anchor="middle">40-44</text>
<line x1="1258.35" y1="326.7" x2="1258.35" y2="329.1" stroke="#333333" stroke-width="0.9"/>
<text transform="translate(1258.35 336.65) scale(0.9 1)" font-size="4.6" fill="#111" stroke="#111" stroke-width="0.1" text-anchor="middle">45-49</text>
<line x1="1271.6" y1="326.7" x2="1271.6" y2="329.1" stroke="#333333" stroke-width="0.9"/>
<text transform="translate(1271.6 336.65) scale(0.9 1)" font-size="4.6" fill="#111" stroke="#111" stroke-width="0.1" text-anchor="middle">50-54</text>
<line x1="1284.85" y1="326.7" x2="1284.85" y2="329.1" stroke="#333333" stroke-width="0.9"/>
<text transform="translate(1284.85 336.65) scale(0.9 1)" font-size="4.6" fill="#111" stroke="#111" stroke-width="0.1" text-anchor="middle">55-59</text>
<line x1="1298.1" y1="326.7" x2="1298.1" y2="329.1" stroke="#333333" stroke-width="0.9"/>
<text transform="translate(1298.1 336.65) scale(0.9 1)" font-size="4.6" fill="#111" stroke="#111" stroke-width="0.1" text-anchor="middle">60-64</text>
<line x1="1311.35" y1="326.7" x2="1311.35" y2="329.1" stroke="#333333" stroke-width="0.9"/>
<text transform="translate(1311.35 336.65) scale(0.9 1)" font-size="4.6" fill="#111" stroke="#111" stroke-width="0.1" text-anchor="middle">65-69</text>
<line x1="1324.6" y1="326.7" x2="1324.6" y2="329.1" stroke="#333333" stroke-width="0.9"/>
<text transform="translate(1324.6 336.65) scale(0.9 1)" font-size="4.6" fill="#111" stroke="#111" stroke-width="0.1" text-anchor="middle">70-74</text>
<line x1="1337.85" y1="326.7" x2="1337.85" y2="329.1" stroke="#333333" stroke-width="0.9"/>
<text transform="translate(1337.85 336.65) scale(0.9 1)" font-size="4.6" fill="#111" stroke="#111" stroke-width="0.1" text-anchor="middle">75-79</text>
<line x1="1351.1" y1="326.7" x2="1351.1" y2="329.1" stroke="#333333" stroke-width="0.9"/>
<text transform="translate(1351.1 336.65) scale(0.9 1)" font-size="4.6" fill="#111" stroke="#111" stroke-width="0.1" text-anchor="middle">80-84</text>
<line x1="1364.35" y1="326.7" x2="1364.35" y2="329.1" stroke="#333333" stroke-width="0.9"/>
<text transform="translate(1364.35 336.65) scale(0.9 1)" font-size="4.6" fill="#111" stroke="#111" stroke-width="0.1" text-anchor="middle">85-89</text>
<line x1="1377.6" y1="326.7" x2="1377.6" y2="329.1" stroke="#333333" stroke-width="0.9"/>
<text transform="translate(1377.6 336.65) scale(0.9 1)" font-size="4.6" fill="#111" stroke="#111" stroke-width="0.1" text-anchor="middle">90-94</text>
<line x1="1390.85" y1="326.7" x2="1390.85" y2="329.1" stroke="#333333" stroke-width="0.9"/>
<text transform="translate(1390.85 336.65) scale(0.9 1)" font-size="4.6" fill="#111" stroke="#111" stroke-width="0.1" text-anchor="middle">95+</text>
<text x="1264.7" y="349.2" font-size="9.2" fill="#000" text-anchor="middle" stroke="#000" stroke-width="0.28">Age</text>
<text x="1412.6" y="172.95" font-size="9.2" fill="#000" text-anchor="start" stroke="#000" stroke-width="0.28">Sex</text>
<rect x="1413" y="177.15" width="14" height="14.4" fill="#DCE2EA"/>
<line x1="1414.1" y1="184.55" x2="1425.8" y2="184.55" stroke="#4682B4" stroke-width="0.8"/>
<circle cx="1420" cy="184.55" r="1.25" fill="#4682B4"/>
<text x="1431.6" y="187.95" font-size="7.7" fill="#000" text-anchor="start" stroke="#000" stroke-width="0.23">Female</text>
<rect x="1413" y="191.55" width="14" height="14.4" fill="#F0DCDD"/>
<line x1="1414.1" y1="198.95" x2="1425.8" y2="198.95" stroke="#E41A1C" stroke-width="0.8"/>
<circle cx="1420" cy="198.95" r="1.25" fill="#E41A1C"/>
<text x="1431.6" y="202.35" font-size="7.7" fill="#000" text-anchor="start" stroke="#000" stroke-width="0.23">Male</text>
</g>
<g id="D1">
<rect x="1566.2" y="45.9" width="267.7" height="284.5" fill="#EBEBEB"/>
<line x1="1566.2" y1="274.45" x2="1833.9" y2="274.45" stroke="#FFFFFF" stroke-width="0.75"/>
<line x1="1566.2" y1="185.55" x2="1833.9" y2="185.55" stroke="#FFFFFF" stroke-width="0.75"/>
<line x1="1566.2" y1="96.65" x2="1833.9" y2="96.65" stroke="#FFFFFF" stroke-width="0.75"/>
<line x1="1566.2" y1="318.9" x2="1833.9" y2="318.9" stroke="#FFFFFF" stroke-width="1.1"/>
<line x1="1566.2" y1="230" x2="1833.9" y2="230" stroke="#FFFFFF" stroke-width="1.1"/>
<line x1="1566.2" y1="141.1" x2="1833.9" y2="141.1" stroke="#FFFFFF" stroke-width="1.1"/>
<line x1="1566.2" y1="52.2" x2="1833.9" y2="52.2" stroke="#FFFFFF" stroke-width="1.1"/>
<line x1="1573.7" y1="45.9" x2="1573.7" y2="330.4" stroke="#FFFFFF" stroke-width="0.8"/>
<line x1="1586.97" y1="45.9" x2="1586.97" y2="330.4" stroke="#FFFFFF" stroke-width="0.8"/>
<line x1="1600.24" y1="45.9" x2="1600.24" y2="330.4" stroke="#FFFFFF" stroke-width="0.8"/>
<line x1="1613.51" y1="45.9" x2="1613.51" y2="330.4" stroke="#FFFFFF" stroke-width="0.8"/>
<line x1="1626.78" y1="45.9" x2="1626.78" y2="330.4" stroke="#FFFFFF" stroke-width="0.8"/>
<line x1="1640.05" y1="45.9" x2="1640.05" y2="330.4" stroke="#FFFFFF" stroke-width="0.8"/>
<line x1="1653.32" y1="45.9" x2="1653.32" y2="330.4" stroke="#FFFFFF" stroke-width="0.8"/>
<line x1="1666.59" y1="45.9" x2="1666.59" y2="330.4" stroke="#FFFFFF" stroke-width="0.8"/>
<line x1="1679.86" y1="45.9" x2="1679.86" y2="330.4" stroke="#FFFFFF" stroke-width="0.8"/>
<line x1="1693.13" y1="45.9" x2="1693.13" y2="330.4" stroke="#FFFFFF" stroke-width="0.8"/>
<line x1="1706.4" y1="45.9" x2="1706.4" y2="330.4" stroke="#FFFFFF" stroke-width="0.8"/>
<line x1="1719.67" y1="45.9" x2="1719.67" y2="330.4" stroke="#FFFFFF" stroke-width="0.8"/>
<line x1="1732.94" y1="45.9" x2="1732.94" y2="330.4" stroke="#FFFFFF" stroke-width="0.8"/>
<line x1="1746.21" y1="45.9" x2="1746.21" y2="330.4" stroke="#FFFFFF" stroke-width="0.8"/>
<line x1="1759.48" y1="45.9" x2="1759.48" y2="330.4" stroke="#FFFFFF" stroke-width="0.8"/>
<line x1="1772.75" y1="45.9" x2="1772.75" y2="330.4" stroke="#FFFFFF" stroke-width="0.8"/>
<line x1="1786.02" y1="45.9" x2="1786.02" y2="330.4" stroke="#FFFFFF" stroke-width="0.8"/>
<line x1="1799.29" y1="45.9" x2="1799.29" y2="330.4" stroke="#FFFFFF" stroke-width="0.8"/>
<line x1="1812.56" y1="45.9" x2="1812.56" y2="330.4" stroke="#FFFFFF" stroke-width="0.8"/>
<line x1="1825.83" y1="45.9" x2="1825.83" y2="330.4" stroke="#FFFFFF" stroke-width="0.8"/>
<clipPath id="c1566"><rect x="1566.2" y="45.9" width="267.7" height="284.5"/></clipPath>
<g clip-path="url(#c1566)">
<polygon points="1573.7,317.86 1586.97,317.08 1600.24,317.08 1613.51,317.08 1626.78,317.08 1640.05,317.08 1653.32,317.08 1666.59,316.3 1679.86,314.01 1693.13,311.93 1706.4,308.34 1719.67,304.6 1732.94,297.47 1746.21,288.84 1759.48,275.34 1772.75,260.23 1786.02,236.22 1799.29,192.31 1812.56,156.21 1825.83,64.02 1825.83,203.33 1812.56,211.33 1799.29,243.33 1786.02,262.89 1772.75,278.89 1759.48,288.67 1746.21,297.58 1732.94,303.7 1719.67,308.75 1706.4,311.41 1693.13,313.96 1679.86,315.43 1666.59,317.06 1653.32,317.61 1640.05,317.61 1626.78,317.61 1613.51,317.61 1600.24,317.61 1586.97,317.61 1573.7,318.16" fill="#4682B4" fill-opacity="0.10"/>
<polygon points="1573.7,317.86 1586.97,317.08 1600.24,317.08 1613.51,317.08 1626.78,317.08 1640.05,317.08 1653.32,316.46 1666.59,315.68 1679.86,313.6 1693.13,311.26 1706.4,307.82 1719.67,303.4 1732.94,296.28 1746.21,286.81 1759.48,267.78 1772.75,248.31 1786.02,222.21 1799.29,193.37 1812.56,188.84 1825.83,169.1 1825.83,247.9 1812.56,240.45 1799.29,245.35 1786.02,255.16 1772.75,268.89 1759.48,283.78 1746.21,296.14 1732.94,302.85 1719.67,307.91 1706.4,311.04 1693.13,313.48 1679.86,315.14 1666.59,316.61 1653.32,317.17 1640.05,317.61 1626.78,317.61 1613.51,317.61 1600.24,317.61 1586.97,317.61 1573.7,318.16" fill="#E41A1C" fill-opacity="0.10"/>
<polyline points="1573.7,318.01 1586.97,317.34 1600.24,317.34 1613.51,317.34 1626.78,317.34 1640.05,317.34 1653.32,317.34 1666.59,316.68 1679.86,314.72 1693.13,312.94 1706.4,309.88 1719.67,306.68 1732.94,300.59 1746.21,293.21 1759.48,282.45 1772.75,270 1786.02,250.65 1799.29,223.39 1812.56,189.11 1825.83,147.54" fill="none" stroke="#4682B4" stroke-width="0.75" stroke-linejoin="round"/>
<circle cx="1573.7" cy="318.01" r="1.25" fill="#4682B4"/>
<circle cx="1586.97" cy="317.34" r="1.25" fill="#4682B4"/>
<circle cx="1600.24" cy="317.34" r="1.25" fill="#4682B4"/>
<circle cx="1613.51" cy="317.34" r="1.25" fill="#4682B4"/>
<circle cx="1626.78" cy="317.34" r="1.25" fill="#4682B4"/>
<circle cx="1640.05" cy="317.34" r="1.25" fill="#4682B4"/>
<circle cx="1653.32" cy="317.34" r="1.25" fill="#4682B4"/>
<circle cx="1666.59" cy="316.68" r="1.25" fill="#4682B4"/>
<circle cx="1679.86" cy="314.72" r="1.25" fill="#4682B4"/>
<circle cx="1693.13" cy="312.94" r="1.25" fill="#4682B4"/>
<circle cx="1706.4" cy="309.88" r="1.25" fill="#4682B4"/>
<circle cx="1719.67" cy="306.68" r="1.25" fill="#4682B4"/>
<circle cx="1732.94" cy="300.59" r="1.25" fill="#4682B4"/>
<circle cx="1746.21" cy="293.21" r="1.25" fill="#4682B4"/>
<circle cx="1759.48" cy="282.45" r="1.25" fill="#4682B4"/>
<circle cx="1772.75" cy="270" r="1.25" fill="#4682B4"/>
<circle cx="1786.02" cy="250.65" r="1.25" fill="#4682B4"/>
<circle cx="1799.29" cy="223.39" r="1.25" fill="#4682B4"/>
<circle cx="1812.56" cy="189.11" r="1.25" fill="#4682B4"/>
<circle cx="1825.83" cy="147.54" r="1.25" fill="#4682B4"/>
<polyline points="1573.7,318.01 1586.97,317.34 1600.24,317.34 1613.51,317.34 1626.78,317.34 1640.05,317.34 1653.32,316.81 1666.59,316.14 1679.86,314.37 1693.13,312.37 1706.4,309.43 1719.67,305.65 1732.94,299.56 1746.21,291.47 1759.48,276.81 1772.75,258.1 1786.02,239.48 1799.29,221.82 1812.56,214.98 1825.83,220.26" fill="none" stroke="#E41A1C" stroke-width="0.75" stroke-linejoin="round"/>
<circle cx="1573.7" cy="318.01" r="1.25" fill="#E41A1C"/>
<circle cx="1586.97" cy="317.34" r="1.25" fill="#E41A1C"/>
<circle cx="1600.24" cy="317.34" r="1.25" fill="#E41A1C"/>
<circle cx="1613.51" cy="317.34" r="1.25" fill="#E41A1C"/>
<circle cx="1626.78" cy="317.34" r="1.25" fill="#E41A1C"/>
<circle cx="1640.05" cy="317.34" r="1.25" fill="#E41A1C"/>
<circle cx="1653.32" cy="316.81" r="1.25" fill="#E41A1C"/>
<circle cx="1666.59" cy="316.14" r="1.25" fill="#E41A1C"/>
<circle cx="1679.86" cy="314.37" r="1.25" fill="#E41A1C"/>
<circle cx="1693.13" cy="312.37" r="1.25" fill="#E41A1C"/>
<circle cx="1706.4" cy="309.43" r="1.25" fill="#E41A1C"/>
<circle cx="1719.67" cy="305.65" r="1.25" fill="#E41A1C"/>
<circle cx="1732.94" cy="299.56" r="1.25" fill="#E41A1C"/>
<circle cx="1746.21" cy="291.47" r="1.25" fill="#E41A1C"/>
<circle cx="1759.48" cy="276.81" r="1.25" fill="#E41A1C"/>
<circle cx="1772.75" cy="258.1" r="1.25" fill="#E41A1C"/>
<circle cx="1786.02" cy="239.48" r="1.25" fill="#E41A1C"/>
<circle cx="1799.29" cy="221.82" r="1.25" fill="#E41A1C"/>
<circle cx="1812.56" cy="214.98" r="1.25" fill="#E41A1C"/>
<circle cx="1825.83" cy="220.26" r="1.25" fill="#E41A1C"/>
</g>
<line x1="1563.8" y1="318.9" x2="1566.2" y2="318.9" stroke="#333333" stroke-width="0.9"/>
<text x="1561.5" y="322.05" font-size="7.7" fill="#4D4D4D" text-anchor="end" stroke="#4D4D4D" stroke-width="0.23">0</text>
<line x1="1563.8" y1="230" x2="1566.2" y2="230" stroke="#333333" stroke-width="0.9"/>
<text x="1561.5" y="233.15" font-size="7.7" fill="#4D4D4D" text-anchor="end" stroke="#4D4D4D" stroke-width="0.23">10000</text>
<line x1="1563.8" y1="141.1" x2="1566.2" y2="141.1" stroke="#333333" stroke-width="0.9"/>
<text x="1561.5" y="144.25" font-size="7.7" fill="#4D4D4D" text-anchor="end" stroke="#4D4D4D" stroke-width="0.23">20000</text>
<line x1="1563.8" y1="52.2" x2="1566.2" y2="52.2" stroke="#333333" stroke-width="0.9"/>
<text x="1561.5" y="55.35" font-size="7.7" fill="#4D4D4D" text-anchor="end" stroke="#4D4D4D" stroke-width="0.23">30000</text>
<text transform="translate(1538.2 188.75) rotate(-90)" font-size="9.2" fill="#000" stroke="#000" stroke-width="0.28" text-anchor="middle">The Rate of Incidence</text>
<line x1="1573.7" y1="330.4" x2="1573.7" y2="332.8" stroke="#333333" stroke-width="0.9"/>
<text transform="translate(1573.7 341.85) scale(0.9 1)" font-size="4.6" fill="#111" stroke="#111" stroke-width="0.1" text-anchor="middle">&lt;5</text>
<line x1="1586.97" y1="330.4" x2="1586.97" y2="332.8" stroke="#333333" stroke-width="0.9"/>
<text transform="translate(1586.97 341.85) scale(0.9 1)" font-size="4.6" fill="#111" stroke="#111" stroke-width="0.1" text-anchor="middle">5-9</text>
<line x1="1600.24" y1="330.4" x2="1600.24" y2="332.8" stroke="#333333" stroke-width="0.9"/>
<text transform="translate(1600.24 341.85) scale(0.9 1)" font-size="4.6" fill="#111" stroke="#111" stroke-width="0.1" text-anchor="middle">10-14</text>
<line x1="1613.51" y1="330.4" x2="1613.51" y2="332.8" stroke="#333333" stroke-width="0.9"/>
<text transform="translate(1613.51 341.85) scale(0.9 1)" font-size="4.6" fill="#111" stroke="#111" stroke-width="0.1" text-anchor="middle">15-19</text>
<line x1="1626.78" y1="330.4" x2="1626.78" y2="332.8" stroke="#333333" stroke-width="0.9"/>
<text transform="translate(1626.78 341.85) scale(0.9 1)" font-size="4.6" fill="#111" stroke="#111" stroke-width="0.1" text-anchor="middle">20-24</text>
<line x1="1640.05" y1="330.4" x2="1640.05" y2="332.8" stroke="#333333" stroke-width="0.9"/>
<text transform="translate(1640.05 341.85) scale(0.9 1)" font-size="4.6" fill="#111" stroke="#111" stroke-width="0.1" text-anchor="middle">25-29</text>
<line x1="1653.32" y1="330.4" x2="1653.32" y2="332.8" stroke="#333333" stroke-width="0.9"/>
<text transform="translate(1653.32 341.85) scale(0.9 1)" font-size="4.6" fill="#111" stroke="#111" stroke-width="0.1" text-anchor="middle">30-34</text>
<line x1="1666.59" y1="330.4" x2="1666.59" y2="332.8" stroke="#333333" stroke-width="0.9"/>
<text transform="translate(1666.59 341.85) scale(0.9 1)" font-size="4.6" fill="#111" stroke="#111" stroke-width="0.1" text-anchor="middle">35-39</text>
<line x1="1679.86" y1="330.4" x2="1679.86" y2="332.8" stroke="#333333" stroke-width="0.9"/>
<text transform="translate(1679.86 341.85) scale(0.9 1)" font-size="4.6" fill="#111" stroke="#111" stroke-width="0.1" text-anchor="middle">40-44</text>
<line x1="1693.13" y1="330.4" x2="1693.13" y2="332.8" stroke="#333333" stroke-width="0.9"/>
<text transform="translate(1693.13 341.85) scale(0.9 1)" font-size="4.6" fill="#111" stroke="#111" stroke-width="0.1" text-anchor="middle">45-49</text>
<line x1="1706.4" y1="330.4" x2="1706.4" y2="332.8" stroke="#333333" stroke-width="0.9"/>
<text transform="translate(1706.4 341.85) scale(0.9 1)" font-size="4.6" fill="#111" stroke="#111" stroke-width="0.1" text-anchor="middle">50-54</text>
<line x1="1719.67" y1="330.4" x2="1719.67" y2="332.8" stroke="#333333" stroke-width="0.9"/>
<text transform="translate(1719.67 341.85) scale(0.9 1)" font-size="4.6" fill="#111" stroke="#111" stroke-width="0.1" text-anchor="middle">55-59</text>
<line x1="1732.94" y1="330.4" x2="1732.94" y2="332.8" stroke="#333333" stroke-width="0.9"/>
<text transform="translate(1732.94 341.85) scale(0.9 1)" font-size="4.6" fill="#111" stroke="#111" stroke-width="0.1" text-anchor="middle">60-64</text>
<line x1="1746.21" y1="330.4" x2="1746.21" y2="332.8" stroke="#333333" stroke-width="0.9"/>
<text transform="translate(1746.21 341.85) scale(0.9 1)" font-size="4.6" fill="#111" stroke="#111" stroke-width="0.1" text-anchor="middle">65-69</text>
<line x1="1759.48" y1="330.4" x2="1759.48" y2="332.8" stroke="#333333" stroke-width="0.9"/>
<text transform="translate(1759.48 341.85) scale(0.9 1)" font-size="4.6" fill="#111" stroke="#111" stroke-width="0.1" text-anchor="middle">70-74</text>
<line x1="1772.75" y1="330.4" x2="1772.75" y2="332.8" stroke="#333333" stroke-width="0.9"/>
<text transform="translate(1772.75 341.85) scale(0.9 1)" font-size="4.6" fill="#111" stroke="#111" stroke-width="0.1" text-anchor="middle">75-79</text>
<line x1="1786.02" y1="330.4" x2="1786.02" y2="332.8" stroke="#333333" stroke-width="0.9"/>
<text transform="translate(1786.02 341.85) scale(0.9 1)" font-size="4.6" fill="#111" stroke="#111" stroke-width="0.1" text-anchor="middle">80-84</text>
<line x1="1799.29" y1="330.4" x2="1799.29" y2="332.8" stroke="#333333" stroke-width="0.9"/>
<text transform="translate(1799.29 341.85) scale(0.9 1)" font-size="4.6" fill="#111" stroke="#111" stroke-width="0.1" text-anchor="middle">85-89</text>
<line x1="1812.56" y1="330.4" x2="1812.56" y2="332.8" stroke="#333333" stroke-width="0.9"/>
<text transform="translate(1812.56 341.85) scale(0.9 1)" font-size="4.6" fill="#111" stroke="#111" stroke-width="0.1" text-anchor="middle">90-94</text>
<line x1="1825.83" y1="330.4" x2="1825.83" y2="332.8" stroke="#333333" stroke-width="0.9"/>
<text transform="translate(1825.83 341.85) scale(0.9 1)" font-size="4.6" fill="#111" stroke="#111" stroke-width="0.1" text-anchor="middle">95+</text>
<text x="1699.5" y="352.6" font-size="9.2" fill="#000" text-anchor="middle" stroke="#000" stroke-width="0.28">Age</text>
<text x="1847.7" y="176.55" font-size="9.2" fill="#000" text-anchor="start" stroke="#000" stroke-width="0.28">Sex</text>
<rect x="1848.1" y="180.75" width="14" height="14.4" fill="#DCE2EA"/>
<line x1="1849.2" y1="188.15" x2="1860.9" y2="188.15" stroke="#4682B4" stroke-width="0.8"/>
<circle cx="1855.1" cy="188.15" r="1.25" fill="#4682B4"/>
<text x="1866.7" y="191.55" font-size="7.7" fill="#000" text-anchor="start" stroke="#000" stroke-width="0.23">Female</text>
<rect x="1848.1" y="195.15" width="14" height="14.4" fill="#F0DCDD"/>
<line x1="1849.2" y1="202.55" x2="1860.9" y2="202.55" stroke="#E41A1C" stroke-width="0.8"/>
<circle cx="1855.1" cy="202.55" r="1.25" fill="#E41A1C"/>
<text x="1866.7" y="205.95" font-size="7.7" fill="#000" text-anchor="start" stroke="#000" stroke-width="0.23">Male</text>
</g>
<g id="F1">
<rect x="1111.5" y="477.1" width="267.6" height="284.7" fill="#EBEBEB"/>
<line x1="1111.5" y1="700.5" x2="1379.1" y2="700.5" stroke="#FFFFFF" stroke-width="0.75"/>
<line x1="1111.5" y1="602.3" x2="1379.1" y2="602.3" stroke="#FFFFFF" stroke-width="0.75"/>
<line x1="1111.5" y1="504.1" x2="1379.1" y2="504.1" stroke="#FFFFFF" stroke-width="0.75"/>
<line x1="1111.5" y1="749.6" x2="1379.1" y2="749.6" stroke="#FFFFFF" stroke-width="1.1"/>
<line x1="1111.5" y1="651.4" x2="1379.1" y2="651.4" stroke="#FFFFFF" stroke-width="1.1"/>
<line x1="1111.5" y1="553.2" x2="1379.1" y2="553.2" stroke="#FFFFFF" stroke-width="1.1"/>
<line x1="1119.05" y1="477.1" x2="1119.05" y2="761.8" stroke="#FFFFFF" stroke-width="0.8"/>
<line x1="1132.33" y1="477.1" x2="1132.33" y2="761.8" stroke="#FFFFFF" stroke-width="0.8"/>
<line x1="1145.61" y1="477.1" x2="1145.61" y2="761.8" stroke="#FFFFFF" stroke-width="0.8"/>
<line x1="1158.89" y1="477.1" x2="1158.89" y2="761.8" stroke="#FFFFFF" stroke-width="0.8"/>
<line x1="1172.17" y1="477.1" x2="1172.17" y2="761.8" stroke="#FFFFFF" stroke-width="0.8"/>
<line x1="1185.45" y1="477.1" x2="1185.45" y2="761.8" stroke="#FFFFFF" stroke-width="0.8"/>
<line x1="1198.73" y1="477.1" x2="1198.73" y2="761.8" stroke="#FFFFFF" stroke-width="0.8"/>
<line x1="1212.01" y1="477.1" x2="1212.01" y2="761.8" stroke="#FFFFFF" stroke-width="0.8"/>
<line x1="1225.29" y1="477.1" x2="1225.29" y2="761.8" stroke="#FFFFFF" stroke-width="0.8"/>
<line x1="1238.57" y1="477.1" x2="1238.57" y2="761.8" stroke="#FFFFFF" stroke-width="0.8"/>
<line x1="1251.85" y1="477.1" x2="1251.85" y2="761.8" stroke="#FFFFFF" stroke-width="0.8"/>
<line x1="1265.13" y1="477.1" x2="1265.13" y2="761.8" stroke="#FFFFFF" stroke-width="0.8"/>
<line x1="1278.41" y1="477.1" x2="1278.41" y2="761.8" stroke="#FFFFFF" stroke-width="0.8"/>
<line x1="1291.69" y1="477.1" x2="1291.69" y2="761.8" stroke="#FFFFFF" stroke-width="0.8"/>
<line x1="1304.97" y1="477.1" x2="1304.97" y2="761.8" stroke="#FFFFFF" stroke-width="0.8"/>
<line x1="1318.25" y1="477.1" x2="1318.25" y2="761.8" stroke="#FFFFFF" stroke-width="0.8"/>
<line x1="1331.53" y1="477.1" x2="1331.53" y2="761.8" stroke="#FFFFFF" stroke-width="0.8"/>
<line x1="1344.81" y1="477.1" x2="1344.81" y2="761.8" stroke="#FFFFFF" stroke-width="0.8"/>
<line x1="1358.09" y1="477.1" x2="1358.09" y2="761.8" stroke="#FFFFFF" stroke-width="0.8"/>
<line x1="1371.37" y1="477.1" x2="1371.37" y2="761.8" stroke="#FFFFFF" stroke-width="0.8"/>
<clipPath id="c1111"><rect x="1111.5" y="477.1" width="267.6" height="284.7"/></clipPath>
<g clip-path="url(#c1111)">
<polygon points="1119.05,749.36 1132.33,749.54 1145.61,749.54 1158.89,749.54 1172.17,749.51 1185.45,749.48 1198.73,749.42 1212.01,749.31 1225.29,749.13 1238.57,748.83 1251.85,748.54 1265.13,747.93 1278.41,746.36 1291.69,743.27 1304.97,737.17 1318.25,725.05 1331.53,701.48 1344.81,665.15 1358.09,612.12 1371.37,552.71 1371.37,629.5 1358.09,665.15 1344.81,702.46 1331.53,720.14 1318.25,734.87 1304.97,741.31 1291.69,745.38 1278.41,747.44 1265.13,748.48 1251.85,748.89 1238.57,749.09 1225.29,749.29 1212.01,749.4 1198.73,749.48 1185.45,749.52 1172.17,749.54 1158.89,749.56 1145.61,749.56 1132.33,749.56 1119.05,749.44" fill="#4682B4" fill-opacity="0.10"/>
<polygon points="1119.05,749.33 1132.33,749.51 1145.61,749.51 1158.89,749.44 1172.17,749.38 1185.45,749.33 1198.73,749.22 1212.01,748.83 1225.29,748.5 1238.57,747.73 1251.85,747.24 1265.13,746.49 1278.41,744.32 1291.69,740.05 1304.97,731.69 1318.25,718.34 1331.53,687.73 1344.81,597.39 1358.09,490.65 1371.37,503.41 1371.37,565.48 1358.09,565.48 1344.81,641.58 1331.53,701.48 1318.25,725.04 1304.97,735.53 1291.69,742.1 1278.41,745.45 1265.13,747.15 1251.85,747.74 1238.57,748.13 1225.29,748.74 1212.01,749 1198.73,749.3 1185.45,749.38 1172.17,749.43 1158.89,749.47 1145.61,749.53 1132.33,749.53 1119.05,749.38" fill="#E41A1C" fill-opacity="0.10"/>
<polyline points="1119.05,749.4 1132.33,749.55 1145.61,749.55 1158.89,749.55 1172.17,749.52 1185.45,749.5 1198.73,749.45 1212.01,749.35 1225.29,749.21 1238.57,748.96 1251.85,748.72 1265.13,748.21 1278.41,746.9 1291.69,744.33 1304.97,739.24 1318.25,730.35 1331.53,710.96 1344.81,684 1358.09,639.33 1371.37,584.13" fill="none" stroke="#4682B4" stroke-width="0.75" stroke-linejoin="round"/>
<circle cx="1119.05" cy="749.4" r="1.25" fill="#4682B4"/>
<circle cx="1132.33" cy="749.55" r="1.25" fill="#4682B4"/>
<circle cx="1145.61" cy="749.55" r="1.25" fill="#4682B4"/>
<circle cx="1158.89" cy="749.55" r="1.25" fill="#4682B4"/>
<circle cx="1172.17" cy="749.52" r="1.25" fill="#4682B4"/>
<circle cx="1185.45" cy="749.5" r="1.25" fill="#4682B4"/>
<circle cx="1198.73" cy="749.45" r="1.25" fill="#4682B4"/>
<circle cx="1212.01" cy="749.35" r="1.25" fill="#4682B4"/>
<circle cx="1225.29" cy="749.21" r="1.25" fill="#4682B4"/>
<circle cx="1238.57" cy="748.96" r="1.25" fill="#4682B4"/>
<circle cx="1251.85" cy="748.72" r="1.25" fill="#4682B4"/>
<circle cx="1265.13" cy="748.21" r="1.25" fill="#4682B4"/>
<circle cx="1278.41" cy="746.9" r="1.25" fill="#4682B4"/>
<circle cx="1291.69" cy="744.33" r="1.25" fill="#4682B4"/>
<circle cx="1304.97" cy="739.24" r="1.25" fill="#4682B4"/>
<circle cx="1318.25" cy="730.35" r="1.25" fill="#4682B4"/>
<circle cx="1331.53" cy="710.96" r="1.25" fill="#4682B4"/>
<circle cx="1344.81" cy="684" r="1.25" fill="#4682B4"/>
<circle cx="1358.09" cy="639.33" r="1.25" fill="#4682B4"/>
<circle cx="1371.37" cy="584.13" r="1.25" fill="#4682B4"/>
<polyline points="1119.05,749.35 1132.33,749.52 1145.61,749.52 1158.89,749.45 1172.17,749.4 1185.45,749.35 1198.73,749.26 1212.01,748.91 1225.29,748.62 1238.57,747.93 1251.85,747.49 1265.13,746.82 1278.41,744.89 1291.69,741.08 1304.97,733.61 1318.25,721.69 1331.53,694.71 1344.81,619.78 1358.09,528.3 1371.37,528.3" fill="none" stroke="#E41A1C" stroke-width="0.75" stroke-linejoin="round"/>
<circle cx="1119.05" cy="749.35" r="1.25" fill="#E41A1C"/>
<circle cx="1132.33" cy="749.52" r="1.25" fill="#E41A1C"/>
<circle cx="1145.61" cy="749.52" r="1.25" fill="#E41A1C"/>
<circle cx="1158.89" cy="749.45" r="1.25" fill="#E41A1C"/>
<circle cx="1172.17" cy="749.4" r="1.25" fill="#E41A1C"/>
<circle cx="1185.45" cy="749.35" r="1.25" fill="#E41A1C"/>
<circle cx="1198.73" cy="749.26" r="1.25" fill="#E41A1C"/>
<circle cx="1212.01" cy="748.91" r="1.25" fill="#E41A1C"/>
<circle cx="1225.29" cy="748.62" r="1.25" fill="#E41A1C"/>
<circle cx="1238.57" cy="747.93" r="1.25" fill="#E41A1C"/>
<circle cx="1251.85" cy="747.49" r="1.25" fill="#E41A1C"/>
<circle cx="1265.13" cy="746.82" r="1.25" fill="#E41A1C"/>
<circle cx="1278.41" cy="744.89" r="1.25" fill="#E41A1C"/>
<circle cx="1291.69" cy="741.08" r="1.25" fill="#E41A1C"/>
<circle cx="1304.97" cy="733.61" r="1.25" fill="#E41A1C"/>
<circle cx="1318.25" cy="721.69" r="1.25" fill="#E41A1C"/>
<circle cx="1331.53" cy="694.71" r="1.25" fill="#E41A1C"/>
<circle cx="1344.81" cy="619.78" r="1.25" fill="#E41A1C"/>
<circle cx="1358.09" cy="528.3" r="1.25" fill="#E41A1C"/>
<circle cx="1371.37" cy="528.3" r="1.25" fill="#E41A1C"/>
</g>
<line x1="1109.1" y1="749.6" x2="1111.5" y2="749.6" stroke="#333333" stroke-width="0.9"/>
<text x="1106.6" y="753.6" font-size="7.7" fill="#4D4D4D" text-anchor="end" stroke="#4D4D4D" stroke-width="0.23">0</text>
<line x1="1109.1" y1="651.4" x2="1111.5" y2="651.4" stroke="#333333" stroke-width="0.9"/>
<text x="1106.6" y="655.4" font-size="7.7" fill="#4D4D4D" text-anchor="end" stroke="#4D4D4D" stroke-width="0.23">10000</text>
<line x1="1109.1" y1="553.2" x2="1111.5" y2="553.2" stroke="#333333" stroke-width="0.9"/>
<text x="1106.6" y="557.2" font-size="7.7" fill="#4D4D4D" text-anchor="end" stroke="#4D4D4D" stroke-width="0.23">20000</text>
<text transform="translate(1083.1 620.05) rotate(-90)" font-size="9.2" fill="#000" stroke="#000" stroke-width="0.28" text-anchor="middle">The Rate of Deaths</text>
<line x1="1119.05" y1="761.8" x2="1119.05" y2="764.2" stroke="#333333" stroke-width="0.9"/>
<text transform="translate(1119.05 770.15) scale(0.9 1)" font-size="4.6" fill="#111" stroke="#111" stroke-width="0.1" text-anchor="middle">&lt;5</text>
<line x1="1132.33" y1="761.8" x2="1132.33" y2="764.2" stroke="#333333" stroke-width="0.9"/>
<text transform="translate(1132.33 770.15) scale(0.9 1)" font-size="4.6" fill="#111" stroke="#111" stroke-width="0.1" text-anchor="middle">5-9</text>
<line x1="1145.61" y1="761.8" x2="1145.61" y2="764.2" stroke="#333333" stroke-width="0.9"/>
<text transform="translate(1145.61 770.15) scale(0.9 1)" font-size="4.6" fill="#111" stroke="#111" stroke-width="0.1" text-anchor="middle">10-14</text>
<line x1="1158.89" y1="761.8" x2="1158.89" y2="764.2" stroke="#333333" stroke-width="0.9"/>
<text transform="translate(1158.89 770.15) scale(0.9 1)" font-size="4.6" fill="#111" stroke="#111" stroke-width="0.1" text-anchor="middle">15-19</text>
<line x1="1172.17" y1="761.8" x2="1172.17" y2="764.2" stroke="#333333" stroke-width="0.9"/>
<text transform="translate(1172.17 770.15) scale(0.9 1)" font-size="4.6" fill="#111" stroke="#111" stroke-width="0.1" text-anchor="middle">20-24</text>
<line x1="1185.45" y1="761.8" x2="1185.45" y2="764.2" stroke="#333333" stroke-width="0.9"/>
<text transform="translate(1185.45 770.15) scale(0.9 1)" font-size="4.6" fill="#111" stroke="#111" stroke-width="0.1" text-anchor="middle">25-29</text>
<line x1="1198.73" y1="761.8" x2="1198.73" y2="764.2" stroke="#333333" stroke-width="0.9"/>
<text transform="translate(1198.73 770.15) scale(0.9 1)" font-size="4.6" fill="#111" stroke="#111" stroke-width="0.1" text-anchor="middle">30-34</text>
<line x1="1212.01" y1="761.8" x2="1212.01" y2="764.2" stroke="#333333" stroke-width="0.9"/>
<text transform="translate(1212.01 770.15) scale(0.9 1)" font-size="4.6" fill="#111" stroke="#111" stroke-width="0.1" text-anchor="middle">35-39</text>
<line x1="1225.29" y1="761.8" x2="1225.29" y2="764.2" stroke="#333333" stroke-width="0.9"/>
<text transform="translate(1225.29 770.15) scale(0.9 1)" font-size="4.6" fill="#111" stroke="#111" stroke-width="0.1" text-anchor="middle">40-44</text>
<line x1="1238.57" y1="761.8" x2="1238.57" y2="764.2" stroke="#333333" stroke-width="0.9"/>
<text transform="translate(1238.57 770.15) scale(0.9 1)" font-size="4.6" fill="#111" stroke="#111" stroke-width="0.1" text-anchor="middle">45-49</text>
<line x1="1251.85" y1="761.8" x2="1251.85" y2="764.2" stroke="#333333" stroke-width="0.9"/>
<text transform="translate(1251.85 770.15) scale(0.9 1)" font-size="4.6" fill="#111" stroke="#111" stroke-width="0.1" text-anchor="middle">50-54</text>
<line x1="1265.13" y1="761.8" x2="1265.13" y2="764.2" stroke="#333333" stroke-width="0.9"/>
<text transform="translate(1265.13 770.15) scale(0.9 1)" font-size="4.6" fill="#111" stroke="#111" stroke-width="0.1" text-anchor="middle">55-59</text>
<line x1="1278.41" y1="761.8" x2="1278.41" y2="764.2" stroke="#333333" stroke-width="0.9"/>
<text transform="translate(1278.41 770.15) scale(0.9 1)" font-size="4.6" fill="#111" stroke="#111" stroke-width="0.1" text-anchor="middle">60-64</text>
<line x1="1291.69" y1="761.8" x2="1291.69" y2="764.2" stroke="#333333" stroke-width="0.9"/>
<text transform="translate(1291.69 770.15) scale(0.9 1)" font-size="4.6" fill="#111" stroke="#111" stroke-width="0.1" text-anchor="middle">65-69</text>
<line x1="1304.97" y1="761.8" x2="1304.97" y2="764.2" stroke="#333333" stroke-width="0.9"/>
<text transform="translate(1304.97 770.15) scale(0.9 1)" font-size="4.6" fill="#111" stroke="#111" stroke-width="0.1" text-anchor="middle">70-74</text>
<line x1="1318.25" y1="761.8" x2="1318.25" y2="764.2" stroke="#333333" stroke-width="0.9"/>
<text transform="translate(1318.25 770.15) scale(0.9 1)" font-size="4.6" fill="#111" stroke="#111" stroke-width="0.1" text-anchor="middle">75-79</text>
<line x1="1331.53" y1="761.8" x2="1331.53" y2="764.2" stroke="#333333" stroke-width="0.9"/>
<text transform="translate(1331.53 770.15) scale(0.9 1)" font-size="4.6" fill="#111" stroke="#111" stroke-width="0.1" text-anchor="middle">80-84</text>
<line x1="1344.81" y1="761.8" x2="1344.81" y2="764.2" stroke="#333333" stroke-width="0.9"/>
<text transform="translate(1344.81 770.15) scale(0.9 1)" font-size="4.6" fill="#111" stroke="#111" stroke-width="0.1" text-anchor="middle">85-89</text>
<line x1="1358.09" y1="761.8" x2="1358.09" y2="764.2" stroke="#333333" stroke-width="0.9"/>
<text transform="translate(1358.09 770.15) scale(0.9 1)" font-size="4.6" fill="#111" stroke="#111" stroke-width="0.1" text-anchor="middle">90-94</text>
<line x1="1371.37" y1="761.8" x2="1371.37" y2="764.2" stroke="#333333" stroke-width="0.9"/>
<text transform="translate(1371.37 770.15) scale(0.9 1)" font-size="4.6" fill="#111" stroke="#111" stroke-width="0.1" text-anchor="middle">95+</text>
<text x="1244.8" y="784.2" font-size="9.2" fill="#000" text-anchor="middle" stroke="#000" stroke-width="0.28">Age</text>
<text x="1392.6" y="607.85" font-size="9.2" fill="#000" text-anchor="start" stroke="#000" stroke-width="0.28">Sex</text>
<rect x="1393" y="612.05" width="14" height="14.4" fill="#DCE2EA"/>
<line x1="1394.1" y1="619.45" x2="1405.8" y2="619.45" stroke="#4682B4" stroke-width="0.8"/>
<circle cx="1400" cy="619.45" r="1.25" fill="#4682B4"/>
<text x="1411.6" y="622.85" font-size="7.7" fill="#000" text-anchor="start" stroke="#000" stroke-width="0.23">Female</text>
<rect x="1393" y="626.45" width="14" height="14.4" fill="#F0DCDD"/>
<line x1="1394.1" y1="633.85" x2="1405.8" y2="633.85" stroke="#E41A1C" stroke-width="0.8"/>
<circle cx="1400" cy="633.85" r="1.25" fill="#E41A1C"/>
<text x="1411.6" y="637.25" font-size="7.7" fill="#000" text-anchor="start" stroke="#000" stroke-width="0.23">Male</text>
</g>
<g id="H1">
<rect x="1565.6" y="484.9" width="263.55" height="284.3" fill="#EBEBEB"/>
<line x1="1565.6" y1="729.1" x2="1829.15" y2="729.1" stroke="#FFFFFF" stroke-width="0.75"/>
<line x1="1565.6" y1="673.3" x2="1829.15" y2="673.3" stroke="#FFFFFF" stroke-width="0.75"/>
<line x1="1565.6" y1="617.5" x2="1829.15" y2="617.5" stroke="#FFFFFF" stroke-width="0.75"/>
<line x1="1565.6" y1="561.7" x2="1829.15" y2="561.7" stroke="#FFFFFF" stroke-width="0.75"/>
<line x1="1565.6" y1="505.9" x2="1829.15" y2="505.9" stroke="#FFFFFF" stroke-width="0.75"/>
<line x1="1565.6" y1="757" x2="1829.15" y2="757" stroke="#FFFFFF" stroke-width="1.1"/>
<line x1="1565.6" y1="701.2" x2="1829.15" y2="701.2" stroke="#FFFFFF" stroke-width="1.1"/>
<line x1="1565.6" y1="645.4" x2="1829.15" y2="645.4" stroke="#FFFFFF" stroke-width="1.1"/>
<line x1="1565.6" y1="589.6" x2="1829.15" y2="589.6" stroke="#FFFFFF" stroke-width="1.1"/>
<line x1="1565.6" y1="533.8" x2="1829.15" y2="533.8" stroke="#FFFFFF" stroke-width="1.1"/>
<line x1="1573.6" y1="484.9" x2="1573.6" y2="769.2" stroke="#FFFFFF" stroke-width="0.8"/>
<line x1="1586.66" y1="484.9" x2="1586.66" y2="769.2" stroke="#FFFFFF" stroke-width="0.8"/>
<line x1="1599.72" y1="484.9" x2="1599.72" y2="769.2" stroke="#FFFFFF" stroke-width="0.8"/>
<line x1="1612.78" y1="484.9" x2="1612.78" y2="769.2" stroke="#FFFFFF" stroke-width="0.8"/>
<line x1="1625.84" y1="484.9" x2="1625.84" y2="769.2" stroke="#FFFFFF" stroke-width="0.8"/>
<line x1="1638.9" y1="484.9" x2="1638.9" y2="769.2" stroke="#FFFFFF" stroke-width="0.8"/>
<line x1="1651.96" y1="484.9" x2="1651.96" y2="769.2" stroke="#FFFFFF" stroke-width="0.8"/>
<line x1="1665.02" y1="484.9" x2="1665.02" y2="769.2" stroke="#FFFFFF" stroke-width="0.8"/>
<line x1="1678.08" y1="484.9" x2="1678.08" y2="769.2" stroke="#FFFFFF" stroke-width="0.8"/>
<line x1="1691.14" y1="484.9" x2="1691.14" y2="769.2" stroke="#FFFFFF" stroke-width="0.8"/>
<line x1="1704.2" y1="484.9" x2="1704.2" y2="769.2" stroke="#FFFFFF" stroke-width="0.8"/>
<line x1="1717.26" y1="484.9" x2="1717.26" y2="769.2" stroke="#FFFFFF" stroke-width="0.8"/>
<line x1="1730.32" y1="484.9" x2="1730.32" y2="769.2" stroke="#FFFFFF" stroke-width="0.8"/>
<line x1="1743.38" y1="484.9" x2="1743.38" y2="769.2" stroke="#FFFFFF" stroke-width="0.8"/>
<line x1="1756.44" y1="484.9" x2="1756.44" y2="769.2" stroke="#FFFFFF" stroke-width="0.8"/>
<line x1="1769.5" y1="484.9" x2="1769.5" y2="769.2" stroke="#FFFFFF" stroke-width="0.8"/>
<line x1="1782.56" y1="484.9" x2="1782.56" y2="769.2" stroke="#FFFFFF" stroke-width="0.8"/>
<line x1="1795.62" y1="484.9" x2="1795.62" y2="769.2" stroke="#FFFFFF" stroke-width="0.8"/>
<line x1="1808.68" y1="484.9" x2="1808.68" y2="769.2" stroke="#FFFFFF" stroke-width="0.8"/>
<line x1="1821.74" y1="484.9" x2="1821.74" y2="769.2" stroke="#FFFFFF" stroke-width="0.8"/>
<clipPath id="c1565"><rect x="1565.6" y="484.9" width="263.55" height="284.3"/></clipPath>
<g clip-path="url(#c1565)">
<polygon points="1573.6,756.59 1586.66,756.59 1599.72,756.59 1612.78,756.59 1625.84,756.52 1638.9,756.46 1651.96,756.14 1665.02,755.92 1678.08,755.07 1691.14,753.6 1704.2,751.89 1717.26,749.65 1730.32,744.88 1743.38,738.07 1756.44,725.82 1769.5,710.13 1782.56,686.47 1795.62,656.89 1808.68,615.49 1821.74,563.37 1821.74,645.4 1808.68,664.82 1795.62,696.29 1782.56,710.13 1769.5,727.87 1756.44,737.07 1743.38,744.9 1730.32,749.25 1717.26,752.3 1704.2,753.74 1691.14,754.82 1678.08,755.76 1665.02,756.31 1651.96,756.45 1638.9,756.65 1625.84,756.7 1612.78,756.74 1599.72,756.74 1586.66,756.74 1573.6,756.74" fill="#4682B4" fill-opacity="0.10"/>
<polygon points="1573.6,756.62 1586.66,756.62 1599.72,756.62 1612.78,756 1625.84,756 1638.9,756 1651.96,755.21 1665.02,753.82 1678.08,752.23 1691.14,750.82 1704.2,747.96 1717.26,744.52 1730.32,738.08 1743.38,729.58 1756.44,713.71 1769.5,692.38 1782.56,664.82 1795.62,581.79 1808.68,496.41 1821.74,518.85 1821.74,579.28 1808.68,569.34 1795.62,628.66 1782.56,682.56 1769.5,708.12 1756.44,723.67 1743.38,735.89 1730.32,742.44 1717.26,747.39 1704.2,750.04 1691.14,752.24 1678.08,753.33 1665.02,754.55 1651.96,755.62 1638.9,756.23 1625.84,756.23 1612.78,756.23 1599.72,756.71 1586.66,756.71 1573.6,756.71" fill="#E41A1C" fill-opacity="0.10"/>
<polyline points="1573.6,756.67 1586.66,756.67 1599.72,756.67 1612.78,756.67 1625.84,756.61 1638.9,756.55 1651.96,756.3 1665.02,756.12 1678.08,755.42 1691.14,754.21 1704.2,752.82 1717.26,750.97 1730.32,747.07 1743.38,741.49 1756.44,731.44 1769.5,720.06 1782.56,697.77 1795.62,678.44 1808.68,644.1 1821.74,597.08" fill="none" stroke="#4682B4" stroke-width="0.75" stroke-linejoin="round"/>
<circle cx="1573.6" cy="756.67" r="1.25" fill="#4682B4"/>
<circle cx="1586.66" cy="756.67" r="1.25" fill="#4682B4"/>
<circle cx="1599.72" cy="756.67" r="1.25" fill="#4682B4"/>
<circle cx="1612.78" cy="756.67" r="1.25" fill="#4682B4"/>
<circle cx="1625.84" cy="756.61" r="1.25" fill="#4682B4"/>
<circle cx="1638.9" cy="756.55" r="1.25" fill="#4682B4"/>
<circle cx="1651.96" cy="756.3" r="1.25" fill="#4682B4"/>
<circle cx="1665.02" cy="756.12" r="1.25" fill="#4682B4"/>
<circle cx="1678.08" cy="755.42" r="1.25" fill="#4682B4"/>
<circle cx="1691.14" cy="754.21" r="1.25" fill="#4682B4"/>
<circle cx="1704.2" cy="752.82" r="1.25" fill="#4682B4"/>
<circle cx="1717.26" cy="750.97" r="1.25" fill="#4682B4"/>
<circle cx="1730.32" cy="747.07" r="1.25" fill="#4682B4"/>
<circle cx="1743.38" cy="741.49" r="1.25" fill="#4682B4"/>
<circle cx="1756.44" cy="731.44" r="1.25" fill="#4682B4"/>
<circle cx="1769.5" cy="720.06" r="1.25" fill="#4682B4"/>
<circle cx="1782.56" cy="697.77" r="1.25" fill="#4682B4"/>
<circle cx="1795.62" cy="678.44" r="1.25" fill="#4682B4"/>
<circle cx="1808.68" cy="644.1" r="1.25" fill="#4682B4"/>
<circle cx="1821.74" cy="597.08" r="1.25" fill="#4682B4"/>
<polyline points="1573.6,756.67 1586.66,756.67 1599.72,756.67 1612.78,756.12 1625.84,756.12 1638.9,756.12 1651.96,755.42 1665.02,754.18 1678.08,752.78 1691.14,751.53 1704.2,749 1717.26,745.95 1730.32,740.26 1743.38,732.74 1756.44,718.69 1769.5,701.78 1782.56,673.91 1795.62,605.34 1808.68,534.36 1821.74,544.18" fill="none" stroke="#E41A1C" stroke-width="0.75" stroke-linejoin="round"/>
<circle cx="1573.6" cy="756.67" r="1.25" fill="#E41A1C"/>
<circle cx="1586.66" cy="756.67" r="1.25" fill="#E41A1C"/>
<circle cx="1599.72" cy="756.67" r="1.25" fill="#E41A1C"/>
<circle cx="1612.78" cy="756.12" r="1.25" fill="#E41A1C"/>
<circle cx="1625.84" cy="756.12" r="1.25" fill="#E41A1C"/>
<circle cx="1638.9" cy="756.12" r="1.25" fill="#E41A1C"/>
<circle cx="1651.96" cy="755.42" r="1.25" fill="#E41A1C"/>
<circle cx="1665.02" cy="754.18" r="1.25" fill="#E41A1C"/>
<circle cx="1678.08" cy="752.78" r="1.25" fill="#E41A1C"/>
<circle cx="1691.14" cy="751.53" r="1.25" fill="#E41A1C"/>
<circle cx="1704.2" cy="749" r="1.25" fill="#E41A1C"/>
<circle cx="1717.26" cy="745.95" r="1.25" fill="#E41A1C"/>
<circle cx="1730.32" cy="740.26" r="1.25" fill="#E41A1C"/>
<circle cx="1743.38" cy="732.74" r="1.25" fill="#E41A1C"/>
<circle cx="1756.44" cy="718.69" r="1.25" fill="#E41A1C"/>
<circle cx="1769.5" cy="701.78" r="1.25" fill="#E41A1C"/>
<circle cx="1782.56" cy="673.91" r="1.25" fill="#E41A1C"/>
<circle cx="1795.62" cy="605.34" r="1.25" fill="#E41A1C"/>
<circle cx="1808.68" cy="534.36" r="1.25" fill="#E41A1C"/>
<circle cx="1821.74" cy="544.18" r="1.25" fill="#E41A1C"/>
</g>
<line x1="1563.2" y1="757" x2="1565.6" y2="757" stroke="#333333" stroke-width="0.9"/>
<text x="1560.7" y="760.9" font-size="7.7" fill="#4D4D4D" text-anchor="end" stroke="#4D4D4D" stroke-width="0.23">0</text>
<line x1="1563.2" y1="701.2" x2="1565.6" y2="701.2" stroke="#333333" stroke-width="0.9"/>
<text x="1560.7" y="705.1" font-size="7.7" fill="#4D4D4D" text-anchor="end" stroke="#4D4D4D" stroke-width="0.23">50000</text>
<line x1="1563.2" y1="645.4" x2="1565.6" y2="645.4" stroke="#333333" stroke-width="0.9"/>
<text x="1560.7" y="649.3" font-size="7.7" fill="#4D4D4D" text-anchor="end" stroke="#4D4D4D" stroke-width="0.23">100000</text>
<line x1="1563.2" y1="589.6" x2="1565.6" y2="589.6" stroke="#333333" stroke-width="0.9"/>
<text x="1560.7" y="593.5" font-size="7.7" fill="#4D4D4D" text-anchor="end" stroke="#4D4D4D" stroke-width="0.23">150000</text>
<line x1="1563.2" y1="533.8" x2="1565.6" y2="533.8" stroke="#333333" stroke-width="0.9"/>
<text x="1560.7" y="537.7" font-size="7.7" fill="#4D4D4D" text-anchor="end" stroke="#4D4D4D" stroke-width="0.23">200000</text>
<text transform="translate(1533.7 627.65) rotate(-90)" font-size="9.2" fill="#000" stroke="#000" stroke-width="0.28" text-anchor="middle">The Rate of DALYs</text>
<line x1="1573.6" y1="769.2" x2="1573.6" y2="771.6" stroke="#333333" stroke-width="0.9"/>
<text transform="translate(1573.6 778.55) scale(0.9 1)" font-size="4.6" fill="#111" stroke="#111" stroke-width="0.1" text-anchor="middle">&lt;5</text>
<line x1="1586.66" y1="769.2" x2="1586.66" y2="771.6" stroke="#333333" stroke-width="0.9"/>
<text transform="translate(1586.66 778.55) scale(0.9 1)" font-size="4.6" fill="#111" stroke="#111" stroke-width="0.1" text-anchor="middle">5-9</text>
<line x1="1599.72" y1="769.2" x2="1599.72" y2="771.6" stroke="#333333" stroke-width="0.9"/>
<text transform="translate(1599.72 778.55) scale(0.9 1)" font-size="4.6" fill="#111" stroke="#111" stroke-width="0.1" text-anchor="middle">10-14</text>
<line x1="1612.78" y1="769.2" x2="1612.78" y2="771.6" stroke="#333333" stroke-width="0.9"/>
<text transform="translate(1612.78 778.55) scale(0.9 1)" font-size="4.6" fill="#111" stroke="#111" stroke-width="0.1" text-anchor="middle">15-19</text>
<line x1="1625.84" y1="769.2" x2="1625.84" y2="771.6" stroke="#333333" stroke-width="0.9"/>
<text transform="translate(1625.84 778.55) scale(0.9 1)" font-size="4.6" fill="#111" stroke="#111" stroke-width="0.1" text-anchor="middle">20-24</text>
<line x1="1638.9" y1="769.2" x2="1638.9" y2="771.6" stroke="#333333" stroke-width="0.9"/>
<text transform="translate(1638.9 778.55) scale(0.9 1)" font-size="4.6" fill="#111" stroke="#111" stroke-width="0.1" text-anchor="middle">25-29</text>
<line x1="1651.96" y1="769.2" x2="1651.96" y2="771.6" stroke="#333333" stroke-width="0.9"/>
<text transform="translate(1651.96 778.55) scale(0.9 1)" font-size="4.6" fill="#111" stroke="#111" stroke-width="0.1" text-anchor="middle">30-34</text>
<line x1="1665.02" y1="769.2" x2="1665.02" y2="771.6" stroke="#333333" stroke-width="0.9"/>
<text transform="translate(1665.02 778.55) scale(0.9 1)" font-size="4.6" fill="#111" stroke="#111" stroke-width="0.1" text-anchor="middle">35-39</text>
<line x1="1678.08" y1="769.2" x2="1678.08" y2="771.6" stroke="#333333" stroke-width="0.9"/>
<text transform="translate(1678.08 778.55) scale(0.9 1)" font-size="4.6" fill="#111" stroke="#111" stroke-width="0.1" text-anchor="middle">40-44</text>
<line x1="1691.14" y1="769.2" x2="1691.14" y2="771.6" stroke="#333333" stroke-width="0.9"/>
<text transform="translate(1691.14 778.55) scale(0.9 1)" font-size="4.6" fill="#111" stroke="#111" stroke-width="0.1" text-anchor="middle">45-49</text>
<line x1="1704.2" y1="769.2" x2="1704.2" y2="771.6" stroke="#333333" stroke-width="0.9"/>
<text transform="translate(1704.2 778.55) scale(0.9 1)" font-size="4.6" fill="#111" stroke="#111" stroke-width="0.1" text-anchor="middle">50-54</text>
<line x1="1717.26" y1="769.2" x2="1717.26" y2="771.6" stroke="#333333" stroke-width="0.9"/>
<text transform="translate(1717.26 778.55) scale(0.9 1)" font-size="4.6" fill="#111" stroke="#111" stroke-width="0.1" text-anchor="middle">55-59</text>
<line x1="1730.32" y1="769.2" x2="1730.32" y2="771.6" stroke="#333333" stroke-width="0.9"/>
<text transform="translate(1730.32 778.55) scale(0.9 1)" font-size="4.6" fill="#111" stroke="#111" stroke-width="0.1" text-anchor="middle">60-64</text>
<line x1="1743.38" y1="769.2" x2="1743.38" y2="771.6" stroke="#333333" stroke-width="0.9"/>
<text transform="translate(1743.38 778.55) scale(0.9 1)" font-size="4.6" fill="#111" stroke="#111" stroke-width="0.1" text-anchor="middle">65-69</text>
<line x1="1756.44" y1="769.2" x2="1756.44" y2="771.6" stroke="#333333" stroke-width="0.9"/>
<text transform="translate(1756.44 778.55) scale(0.9 1)" font-size="4.6" fill="#111" stroke="#111" stroke-width="0.1" text-anchor="middle">70-74</text>
<line x1="1769.5" y1="769.2" x2="1769.5" y2="771.6" stroke="#333333" stroke-width="0.9"/>
<text transform="translate(1769.5 778.55) scale(0.9 1)" font-size="4.6" fill="#111" stroke="#111" stroke-width="0.1" text-anchor="middle">75-79</text>
<line x1="1782.56" y1="769.2" x2="1782.56" y2="771.6" stroke="#333333" stroke-width="0.9"/>
<text transform="translate(1782.56 778.55) scale(0.9 1)" font-size="4.6" fill="#111" stroke="#111" stroke-width="0.1" text-anchor="middle">80-84</text>
<line x1="1795.62" y1="769.2" x2="1795.62" y2="771.6" stroke="#333333" stroke-width="0.9"/>
<text transform="translate(1795.62 778.55) scale(0.9 1)" font-size="4.6" fill="#111" stroke="#111" stroke-width="0.1" text-anchor="middle">85-89</text>
<line x1="1808.68" y1="769.2" x2="1808.68" y2="771.6" stroke="#333333" stroke-width="0.9"/>
<text transform="translate(1808.68 778.55) scale(0.9 1)" font-size="4.6" fill="#111" stroke="#111" stroke-width="0.1" text-anchor="middle">90-94</text>
<line x1="1821.74" y1="769.2" x2="1821.74" y2="771.6" stroke="#333333" stroke-width="0.9"/>
<text transform="translate(1821.74 778.55) scale(0.9 1)" font-size="4.6" fill="#111" stroke="#111" stroke-width="0.1" text-anchor="middle">95+</text>
<text x="1696.8" y="791.6" font-size="9.2" fill="#000" text-anchor="middle" stroke="#000" stroke-width="0.28">Age</text>
<text x="1843" y="615.45" font-size="9.2" fill="#000" text-anchor="start" stroke="#000" stroke-width="0.28">Sex</text>
<rect x="1843.4" y="619.65" width="14" height="14.4" fill="#DCE2EA"/>
<line x1="1844.5" y1="627.05" x2="1856.2" y2="627.05" stroke="#4682B4" stroke-width="0.8"/>
<circle cx="1850.4" cy="627.05" r="1.25" fill="#4682B4"/>
<text x="1862" y="630.45" font-size="7.7" fill="#000" text-anchor="start" stroke="#000" stroke-width="0.23">Female</text>
<rect x="1843.4" y="634.05" width="14" height="14.4" fill="#F0DCDD"/>
<line x1="1844.5" y1="641.45" x2="1856.2" y2="641.45" stroke="#E41A1C" stroke-width="0.8"/>
<circle cx="1850.4" cy="641.45" r="1.25" fill="#E41A1C"/>
<text x="1862" y="644.85" font-size="7.7" fill="#000" text-anchor="start" stroke="#000" stroke-width="0.23">Male</text>
</g>
<g id="labels">
<text transform="translate(2.28 24.5) scale(1.12 1)" font-size="29.36" font-weight="bold" fill="#000" stroke="#000" stroke-width="2.33">A</text>
<clipPath id="k1"><polygon points="28.49,1 42.8,1 42.8,26.8 35.37,26.8 35.37,19.4 28.49,19.4"/></clipPath>
<g clip-path="url(#k1)"><text transform="translate(28.79 24.5) scale(1.15 1)" font-size="29.36" font-weight="bold" fill="#000" stroke="#000" stroke-width="2.26">1</text></g>
<text transform="translate(521.54 24.6) scale(1.02 1)" font-size="30.09" font-weight="bold" fill="#000" stroke="#000" stroke-width="2.54">C</text>
<clipPath id="k2"><polygon points="546.84,0.6 561.4,0.6 561.4,26.9 553.85,26.9 553.85,19.43 546.84,19.43"/></clipPath>
<g clip-path="url(#k2)"><text transform="translate(547.08 24.6) scale(1.15 1)" font-size="30.09" font-weight="bold" fill="#000" stroke="#000" stroke-width="2.26">1</text></g>
<text transform="translate(3.33 459.9) scale(1.01 1)" font-size="29.22" font-weight="bold" fill="#000" stroke="#000" stroke-width="2.58">E</text>
<clipPath id="k3"><polygon points="26.65,436.5 40.9,436.5 40.9,462.2 33.49,462.2 33.49,454.82 26.65,454.82"/></clipPath>
<g clip-path="url(#k3)"><text transform="translate(26.95 459.9) scale(1.15 1)" font-size="29.22" font-weight="bold" fill="#000" stroke="#000" stroke-width="2.26">1</text></g>
<text transform="translate(521.52 460) scale(1.04 1)" font-size="29.94" font-weight="bold" fill="#000" stroke="#000" stroke-width="2.5">G</text>
<clipPath id="k4"><polygon points="548.79,436.1 563.3,436.1 563.3,462.3 555.78,462.3 555.78,454.84 548.79,454.84"/></clipPath>
<g clip-path="url(#k4)"><text transform="translate(549.04 460) scale(1.15 1)" font-size="29.94" font-weight="bold" fill="#000" stroke="#000" stroke-width="2.26">1</text></g>
<text transform="translate(1033.65 27.2) scale(1.03 1)" font-size="32.56" font-weight="bold" fill="#000" stroke="#000" stroke-width="2.52">B</text>
<clipPath id="k5"><polygon points="1061.78,1.5 1077.2,1.5 1077.2,29.5 1069.26,29.5 1069.26,21.78 1061.78,21.78"/></clipPath>
<g clip-path="url(#k5)"><text transform="translate(1061.82 27.2) scale(1.15 1)" font-size="32.56" font-weight="bold" fill="#000" stroke="#000" stroke-width="2.26">1</text></g>
<text transform="translate(1500.95 28.5) scale(1.05 1)" font-size="33.43" font-weight="bold" fill="#000" stroke="#000" stroke-width="2.48">D</text>
<clipPath id="k6"><polygon points="1530.28,2.2 1546,2.2 1546,30.8 1537.93,30.8 1537.93,22.99 1530.28,22.99"/></clipPath>
<g clip-path="url(#k6)"><text transform="translate(1530.25 28.5) scale(1.15 1)" font-size="33.43" font-weight="bold" fill="#000" stroke="#000" stroke-width="2.26">1</text></g>
<text transform="translate(1033.2 452.9) scale(0.99 1)" font-size="30.23" font-weight="bold" fill="#000" stroke="#000" stroke-width="2.62">F</text>
<clipPath id="k7"><polygon points="1055.69,428.8 1070.3,428.8 1070.3,455.2 1062.73,455.2 1062.73,447.71 1055.69,447.71"/></clipPath>
<g clip-path="url(#k7)"><text transform="translate(1055.91 452.9) scale(1.15 1)" font-size="30.23" font-weight="bold" fill="#000" stroke="#000" stroke-width="2.26">1</text></g>
<text transform="translate(1500.23 455.7) scale(1.14 1)" font-size="32.56" font-weight="bold" fill="#000" stroke="#000" stroke-width="2.29">H</text>
<clipPath id="k8"><polygon points="1530.58,430 1546,430 1546,458 1538.06,458 1538.06,450.28 1530.58,450.28"/></clipPath>
<g clip-path="url(#k8)"><text transform="translate(1530.62 455.7) scale(1.15 1)" font-size="32.56" font-weight="bold" fill="#000" stroke="#000" stroke-width="2.26">1</text></g>
</g>
</svg>
</body>
</html>
